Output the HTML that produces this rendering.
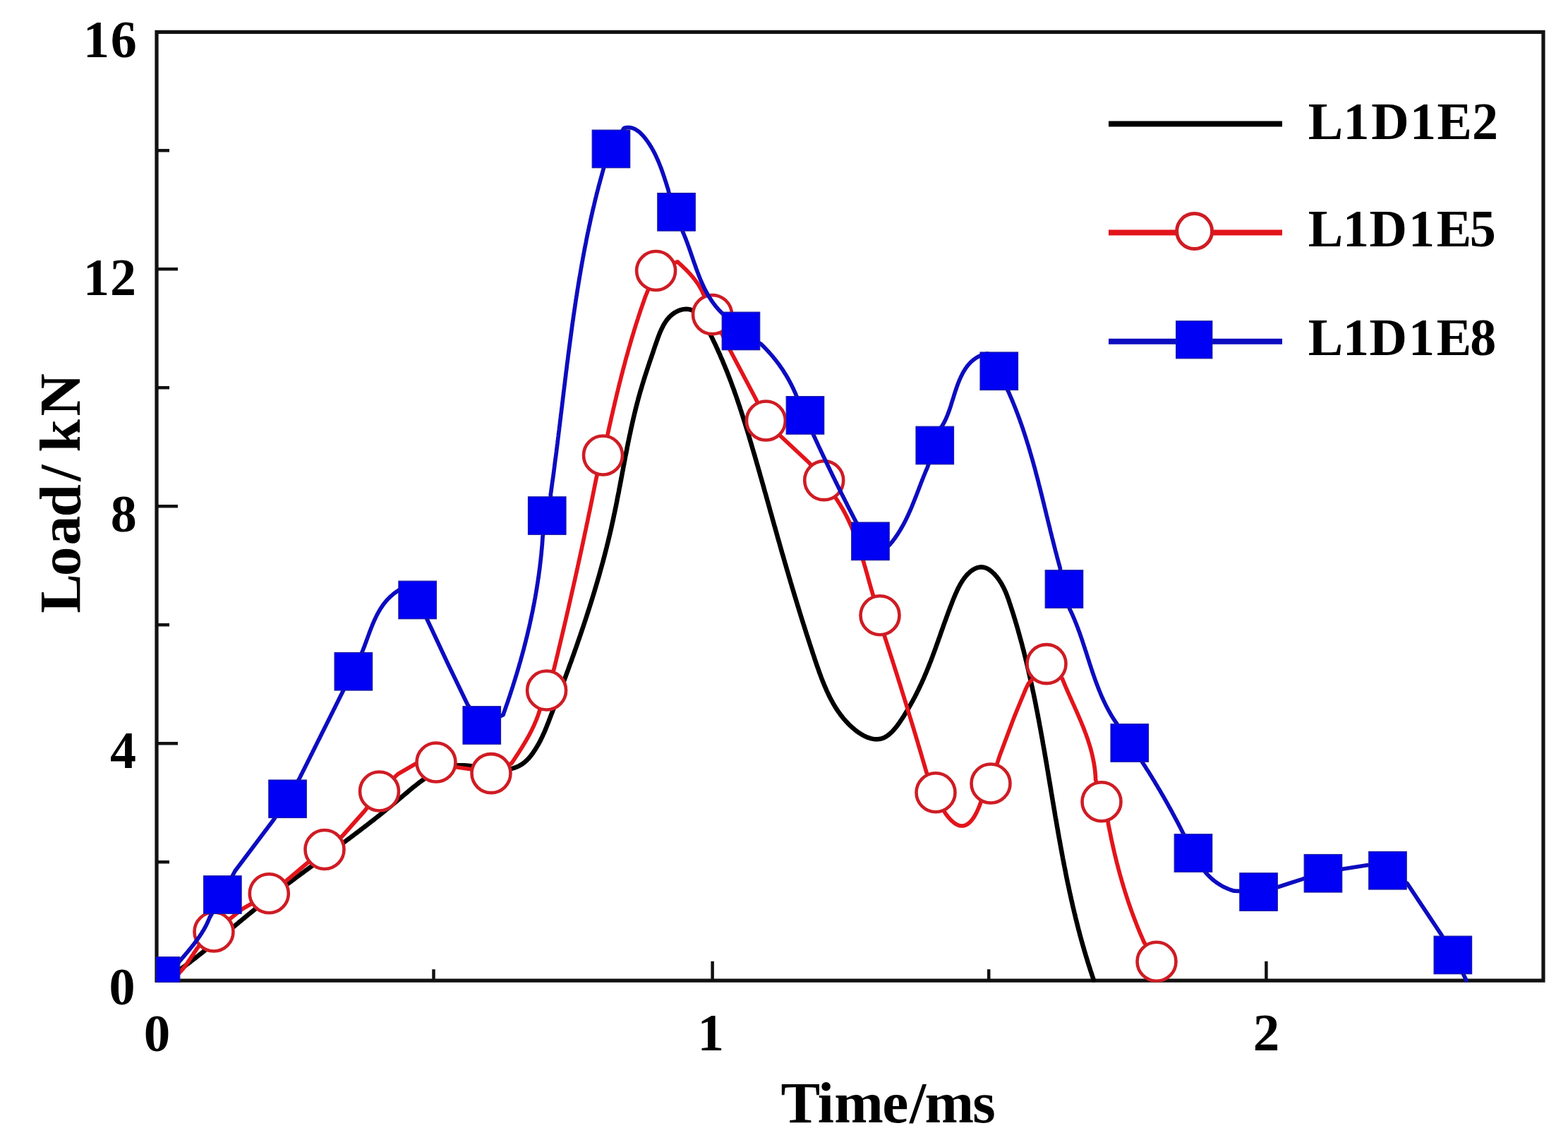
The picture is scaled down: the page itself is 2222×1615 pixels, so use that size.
<!DOCTYPE html>
<html><head><meta charset="utf-8"><title>Load vs Time</title>
<style>html,body{margin:0;padding:0;background:#fff;}body{width:2222px;height:1615px;overflow:hidden;}svg{display:block;}</style>
</head><body>
<svg width="2222" height="1615" viewBox="0 0 2222 1615">
<rect width="2222" height="1615" fill="#fff"/>
<g fill="none" stroke="#111" stroke-width="5.2" stroke-linecap="butt">
<path d="M222.0,45.3 H2187.0 V1389.2 H222.0 Z" stroke-linejoin="miter"/>
<path d="M222.0,381.2 H252.0" stroke-width="4.5"/>
<path d="M222.0,717.2 H252.0" stroke-width="4.5"/>
<path d="M222.0,1053.2 H252.0" stroke-width="4.5"/>
<path d="M222.0,213.2 H240.0" stroke-width="4.5"/>
<path d="M222.0,549.2 H240.0" stroke-width="4.5"/>
<path d="M222.0,885.2 H240.0" stroke-width="4.5"/>
<path d="M222.0,1221.2 H240.0" stroke-width="4.5"/>
<path d="M1009.6,1389.2 V1361.8" stroke-width="4.5"/>
<path d="M1794.4,1389.2 V1361.8" stroke-width="4.5"/>
<path d="M614.5,1389.2 V1373.2" stroke-width="4.5"/>
<path d="M1401.2,1389.2 V1373.2" stroke-width="4.5"/>
</g>
<defs><clipPath id="pc"><rect x="219" y="40" width="1972" height="1351.5"/></clipPath></defs>
<g clip-path="url(#pc)">
<g fill="none" stroke-linecap="round" stroke-linejoin="round">
<path d="M222.4,1395.3 L223.7,1394.5 L224.9,1393.7 L226.2,1392.9 L227.4,1392.2 L228.7,1391.4 L229.9,1390.6 L231.2,1389.8 L232.4,1389.0 L233.6,1388.2 L234.9,1387.4 L236.1,1386.6 L237.3,1385.7 L238.6,1384.9 L239.8,1384.1 L241.0,1383.3 L242.3,1382.4 L243.5,1381.6 L244.7,1380.8 L245.9,1379.9 L247.1,1379.1 L248.4,1378.2 L249.6,1377.4 L250.8,1376.5 L252.0,1375.7 L253.2,1374.8 L254.4,1373.9 L255.6,1373.0 L256.8,1372.2 L258.1,1371.3 L259.3,1370.4 L260.5,1369.5 L261.7,1368.6 L262.9,1367.8 L264.1,1366.9 L265.3,1366.0 L266.5,1365.1 L267.7,1364.2 L268.9,1363.3 L270.1,1362.4 L271.2,1361.4 L272.4,1360.5 L273.6,1359.6 L274.8,1358.7 L276.0,1357.8 L277.2,1356.9 L278.4,1355.9 L279.6,1355.0 L280.8,1354.1 L281.9,1353.1 L283.1,1352.2 L284.3,1351.3 L285.5,1350.3 L286.7,1349.4 L287.9,1348.5 L289.0,1347.5 L290.2,1346.6 L291.4,1345.6 L292.6,1344.7 L293.7,1343.7 L294.9,1342.8 L296.1,1341.8 L297.3,1340.9 L298.4,1339.9 L299.6,1339.0 L300.8,1338.0 L302.0,1337.1 L303.1,1336.1 L304.3,1335.1 L305.5,1334.2 L306.6,1333.2 L307.8,1332.3 L309.0,1331.3 L310.2,1330.3 L311.3,1329.4 L312.5,1328.4 L313.7,1327.4 L314.8,1326.5 L316.0,1325.5 L317.2,1324.5 L318.3,1323.6 L319.5,1322.6 L320.7,1321.6 L321.8,1320.7 L323.0,1319.7 L324.1,1318.7 L325.3,1317.7 L326.5,1316.8 L327.6,1315.8 L328.8,1314.8 L330.0,1313.9 L331.1,1312.9 L332.3,1311.9 L333.5,1311.0 L334.6,1310.0 L335.8,1309.0 L337.0,1308.1 L338.1,1307.1 L339.3,1306.1 L340.4,1305.2 L341.6,1304.2 L342.8,1303.2 L343.9,1302.3 L345.1,1301.3 L346.3,1300.4 L347.4,1299.4 L348.6,1298.4 L349.8,1297.5 L350.9,1296.5 L352.1,1295.6 L353.3,1294.6 L354.4,1293.7 L355.6,1292.7 L356.8,1291.8 L357.9,1290.8 L359.1,1289.9 L360.3,1288.9 L361.5,1288.0 L362.6,1287.0 L363.8,1286.1 L365.0,1285.2 L366.1,1284.2 L367.3,1283.3 L368.5,1282.4 L369.7,1281.4 L370.8,1280.5 L372.0,1279.6 L373.2,1278.7 L374.4,1277.7 L375.5,1276.8 L376.7,1275.9 L377.9,1275.0 L379.1,1274.1 L380.2,1273.1 L381.4,1272.2 L382.6,1271.3 L383.8,1270.4 L385.0,1269.5 L386.1,1268.6 L387.3,1267.7 L388.5,1266.8 L389.7,1265.8 L390.9,1264.9 L392.0,1264.0 L393.2,1263.1 L394.4,1262.2 L395.6,1261.3 L396.8,1260.4 L398.0,1259.5 L399.1,1258.6 L400.3,1257.7 L401.5,1256.8 L402.7,1255.9 L403.9,1255.1 L405.1,1254.2 L406.3,1253.3 L407.4,1252.4 L408.6,1251.5 L409.8,1250.6 L411.0,1249.7 L412.2,1248.8 L413.4,1247.9 L414.6,1247.0 L415.8,1246.2 L417.0,1245.3 L418.1,1244.4 L419.3,1243.5 L420.5,1242.6 L421.7,1241.7 L422.9,1240.9 L424.1,1240.0 L425.3,1239.1 L426.5,1238.2 L427.7,1237.3 L428.9,1236.5 L430.1,1235.6 L431.2,1234.7 L432.4,1233.8 L433.6,1232.9 L434.8,1232.1 L436.0,1231.2 L437.2,1230.3 L438.4,1229.4 L439.6,1228.5 L440.8,1227.7 L442.0,1226.8 L443.2,1225.9 L444.4,1225.0 L445.6,1224.2 L446.8,1223.3 L448.0,1222.4 L449.2,1221.5 L450.4,1220.7 L451.6,1219.8 L452.8,1218.9 L454.0,1218.0 L455.2,1217.1 L456.3,1216.3 L457.5,1215.4 L458.7,1214.5 L459.9,1213.6 L461.1,1212.8 L462.3,1211.9 L463.5,1211.0 L464.7,1210.1 L465.9,1209.2 L467.1,1208.4 L468.3,1207.5 L469.5,1206.6 L470.7,1205.7 L471.9,1204.8 L473.1,1203.9 L474.3,1203.1 L475.5,1202.2 L476.7,1201.3 L477.9,1200.4 L479.1,1199.5 L480.3,1198.6 L481.5,1197.7 L482.7,1196.9 L483.9,1196.0 L485.1,1195.1 L486.3,1194.2 L487.5,1193.3 L488.7,1192.4 L489.9,1191.5 L491.1,1190.6 L492.3,1189.7 L493.5,1188.8 L494.7,1187.9 L495.9,1187.0 L497.1,1186.1 L498.3,1185.2 L499.5,1184.3 L500.7,1183.4 L501.9,1182.5 L503.1,1181.6 L504.3,1180.7 L505.5,1179.8 L506.7,1178.9 L507.9,1178.0 L509.1,1177.1 L510.3,1176.2 L511.5,1175.2 L512.7,1174.3 L513.9,1173.4 L515.1,1172.5 L516.3,1171.6 L517.5,1170.7 L518.7,1169.7 L519.9,1168.8 L521.1,1167.9 L522.3,1167.0 L523.5,1166.0 L524.7,1165.1 L525.9,1164.2 L527.1,1163.2 L528.3,1162.3 L529.5,1161.4 L530.7,1160.4 L531.9,1159.5 L533.1,1158.5 L534.3,1157.6 L535.5,1156.7 L536.7,1155.7 L537.9,1154.8 L539.1,1153.8 L540.3,1152.9 L541.4,1151.9 L542.6,1150.9 L543.8,1150.0 L545.0,1149.0 L546.2,1148.1 L547.4,1147.1 L548.6,1146.1 L549.8,1145.1 L551.0,1144.2 L552.2,1143.2 L553.4,1142.2 L554.6,1141.2 L555.8,1140.3 L557.0,1139.3 L558.2,1138.3 L559.4,1137.3 L560.6,1136.3 L561.8,1135.3 L562.9,1134.3 L564.1,1133.3 L565.3,1132.3 L566.5,1131.3 L567.7,1130.3 L568.9,1129.3 L570.1,1128.3 L571.3,1127.3 L572.5,1126.3 L573.7,1125.3 L574.9,1124.3 L576.1,1123.3 L577.3,1122.3 L578.4,1121.3 L579.6,1120.3 L580.8,1119.3 L582.0,1118.3 L583.2,1117.3 L584.4,1116.3 L585.6,1115.3 L586.8,1114.3 L588.1,1113.4 L589.3,1112.4 L590.5,1111.5 L591.7,1110.5 L592.9,1109.6 L594.1,1108.6 L595.3,1107.7 L596.6,1106.8 L597.8,1105.9 L599.0,1105.0 L600.2,1104.2 L601.5,1103.3 L602.7,1102.4 L604.0,1101.6 L605.2,1100.8 L606.5,1100.0 L607.7,1099.2 L609.0,1098.4 L610.2,1097.6 L611.5,1096.9 L612.8,1096.1 L614.0,1095.4 L615.3,1094.7 L616.6,1094.0 L617.9,1093.3 L619.2,1092.7 L620.5,1092.1 L621.8,1091.5 L623.1,1090.9 L624.4,1090.3 L625.7,1089.8 L627.0,1089.2 L628.4,1088.7 L629.7,1088.3 L631.1,1087.8 L632.4,1087.4 L633.8,1087.0 L635.1,1086.6 L636.5,1086.3 L637.9,1085.9 L639.3,1085.6 L640.6,1085.3 L642.0,1085.1 L643.4,1084.9 L644.9,1084.7 L646.3,1084.5 L647.7,1084.4 L649.1,1084.3 L650.6,1084.2 L652.0,1084.2 L653.5,1084.2 L654.9,1084.2 L656.4,1084.2 L657.9,1084.3 L659.4,1084.4 L660.9,1084.5 L662.4,1084.6 L663.8,1084.8 L665.3,1085.0 L666.9,1085.1 L668.4,1085.3 L669.9,1085.5 L671.4,1085.8 L672.9,1086.0 L674.4,1086.2 L675.9,1086.5 L677.4,1086.7 L679.0,1087.0 L680.5,1087.3 L682.0,1087.5 L683.5,1087.8 L685.0,1088.0 L686.5,1088.3 L688.0,1088.5 L689.5,1088.8 L691.1,1089.0 L692.5,1089.2 L694.0,1089.4 L695.5,1089.6 L697.0,1089.8 L698.5,1090.0 L700.0,1090.1 L701.4,1090.3 L702.9,1090.4 L704.4,1090.5 L705.8,1090.5 L707.2,1090.6 L708.7,1090.6 L710.1,1090.6 L711.5,1090.6 L712.9,1090.5 L714.3,1090.5 L715.7,1090.4 L717.1,1090.2 L718.5,1090.1 L719.8,1089.9 L721.2,1089.7 L722.5,1089.4 L723.8,1089.2 L725.2,1088.9 L726.5,1088.5 L727.8,1088.1 L729.0,1087.7 L730.3,1087.3 L731.6,1086.8 L732.8,1086.3 L734.0,1085.7 L735.3,1085.1 L736.5,1084.5 L737.6,1083.8 L738.8,1083.1 L740.0,1082.4 L741.1,1081.6 L742.2,1080.7 L743.4,1079.9 L744.5,1078.9 L745.5,1078.0 L746.6,1076.9 L747.7,1075.9 L748.7,1074.8 L749.7,1073.7 L750.7,1072.5 L751.7,1071.3 L752.6,1070.1 L753.6,1068.9 L754.5,1067.6 L755.4,1066.3 L756.3,1065.0 L757.2,1063.7 L758.1,1062.4 L758.9,1061.1 L759.7,1059.8 L760.5,1058.5 L761.3,1057.1 L762.1,1055.8 L762.9,1054.5 L763.6,1053.1 L764.3,1051.8 L765.1,1050.4 L765.8,1049.1 L766.4,1047.7 L767.1,1046.3 L767.8,1045.0 L768.4,1043.6 L769.1,1042.2 L769.7,1040.8 L770.3,1039.4 L771.0,1038.1 L771.6,1036.7 L772.2,1035.3 L772.8,1033.9 L773.3,1032.5 L773.9,1031.1 L774.5,1029.7 L775.0,1028.3 L775.6,1026.9 L776.2,1025.5 L776.7,1024.1 L777.3,1022.7 L777.8,1021.3 L778.3,1019.9 L778.9,1018.5 L779.4,1017.0 L780.0,1015.6 L780.5,1014.2 L781.0,1012.8 L781.6,1011.4 L782.1,1010.0 L782.7,1008.6 L783.2,1007.2 L783.7,1005.8 L784.3,1004.4 L784.8,1003.0 L785.3,1001.6 L785.9,1000.1 L786.4,998.7 L786.9,997.3 L787.5,995.9 L788.0,994.5 L788.5,993.1 L789.1,991.7 L789.6,990.3 L790.1,988.9 L790.7,987.5 L791.2,986.1 L791.7,984.7 L792.2,983.3 L792.8,981.9 L793.3,980.4 L793.8,979.0 L794.4,977.6 L794.9,976.2 L795.4,974.8 L795.9,973.4 L796.5,972.0 L797.0,970.6 L797.5,969.2 L798.0,967.8 L798.6,966.4 L799.1,965.0 L799.6,963.5 L800.1,962.1 L800.6,960.7 L801.2,959.3 L801.7,957.9 L802.2,956.5 L802.7,955.1 L803.2,953.7 L803.7,952.3 L804.3,950.9 L804.8,949.5 L805.3,948.0 L805.8,946.6 L806.3,945.2 L806.8,943.8 L807.3,942.4 L807.8,941.0 L808.3,939.6 L808.9,938.2 L809.4,936.8 L809.9,935.4 L810.4,933.9 L810.9,932.5 L811.4,931.1 L811.9,929.7 L812.4,928.3 L812.9,926.9 L813.4,925.5 L813.9,924.1 L814.4,922.6 L814.9,921.2 L815.4,919.8 L815.9,918.4 L816.4,917.0 L816.9,915.6 L817.4,914.2 L817.9,912.7 L818.4,911.3 L818.8,909.9 L819.3,908.5 L819.8,907.1 L820.3,905.7 L820.8,904.3 L821.3,902.8 L821.8,901.4 L822.3,900.0 L822.7,898.6 L823.2,897.2 L823.7,895.8 L824.2,894.3 L824.7,892.9 L825.1,891.5 L825.6,890.1 L826.1,888.7 L826.6,887.3 L827.0,885.8 L827.5,884.4 L828.0,883.0 L828.5,881.6 L828.9,880.2 L829.4,878.7 L829.9,877.3 L830.3,875.9 L830.8,874.5 L831.3,873.0 L831.7,871.6 L832.2,870.2 L832.6,868.8 L833.1,867.4 L833.6,865.9 L834.0,864.5 L834.5,863.1 L834.9,861.7 L835.4,860.2 L835.8,858.8 L836.3,857.4 L836.7,855.9 L837.2,854.5 L837.6,853.1 L838.1,851.7 L838.5,850.2 L839.0,848.8 L839.4,847.4 L839.8,846.0 L840.3,844.5 L840.7,843.1 L841.2,841.7 L841.6,840.2 L842.0,838.8 L842.5,837.4 L842.9,835.9 L843.3,834.5 L843.7,833.1 L844.2,831.6 L844.6,830.2 L845.0,828.8 L845.4,827.3 L845.9,825.9 L846.3,824.5 L846.7,823.0 L847.1,821.6 L847.5,820.1 L848.0,818.7 L848.4,817.3 L848.8,815.8 L849.2,814.4 L849.6,813.0 L850.0,811.5 L850.4,810.1 L850.8,808.6 L851.2,807.2 L851.6,805.7 L852.0,804.3 L852.4,802.9 L852.8,801.4 L853.2,800.0 L853.6,798.5 L854.0,797.1 L854.4,795.6 L854.8,794.2 L855.2,792.7 L855.5,791.3 L855.9,789.8 L856.3,788.4 L856.7,786.9 L857.1,785.5 L857.4,784.0 L857.8,782.6 L858.2,781.1 L858.6,779.7 L858.9,778.2 L859.3,776.8 L859.7,775.3 L860.0,773.9 L860.4,772.4 L860.8,770.9 L861.1,769.5 L861.5,768.0 L861.8,766.6 L862.2,765.1 L862.5,763.7 L862.9,762.2 L863.2,760.7 L863.6,759.3 L863.9,757.8 L864.3,756.3 L864.6,754.9 L865.0,753.4 L865.3,752.0 L865.6,750.5 L866.0,749.0 L866.3,747.6 L866.6,746.1 L867.0,744.6 L867.3,743.1 L867.6,741.7 L867.9,740.2 L868.3,738.7 L868.6,737.3 L868.9,735.8 L869.2,734.3 L869.5,732.8 L869.8,731.4 L870.1,729.9 L870.5,728.4 L870.8,726.9 L871.1,725.5 L871.4,724.0 L871.7,722.5 L872.0,721.0 L872.3,719.5 L872.6,718.1 L872.9,716.6 L873.2,715.1 L873.5,713.6 L873.8,712.1 L874.1,710.7 L874.4,709.2 L874.6,707.7 L874.9,706.2 L875.2,704.7 L875.5,703.3 L875.8,701.8 L876.1,700.3 L876.4,698.8 L876.7,697.3 L877.0,695.8 L877.2,694.4 L877.5,692.9 L877.8,691.4 L878.1,689.9 L878.4,688.4 L878.7,686.9 L878.9,685.5 L879.2,684.0 L879.5,682.5 L879.8,681.0 L880.1,679.5 L880.3,678.0 L880.6,676.5 L880.9,675.1 L881.2,673.6 L881.5,672.1 L881.7,670.6 L882.0,669.1 L882.3,667.6 L882.6,666.2 L882.9,664.7 L883.1,663.2 L883.4,661.7 L883.7,660.2 L884.0,658.7 L884.3,657.3 L884.5,655.8 L884.8,654.3 L885.1,652.8 L885.4,651.3 L885.7,649.9 L886.0,648.4 L886.2,646.9 L886.5,645.4 L886.8,644.0 L887.1,642.5 L887.4,641.0 L887.7,639.5 L888.0,638.0 L888.3,636.6 L888.5,635.1 L888.8,633.6 L889.1,632.1 L889.4,630.7 L889.7,629.2 L890.0,627.7 L890.3,626.3 L890.6,624.8 L890.9,623.3 L891.2,621.9 L891.5,620.4 L891.8,618.9 L892.1,617.5 L892.4,616.0 L892.8,614.5 L893.1,613.1 L893.4,611.6 L893.7,610.1 L894.0,608.7 L894.3,607.2 L894.6,605.8 L895.0,604.3 L895.3,602.8 L895.6,601.4 L895.9,599.9 L896.3,598.5 L896.6,597.0 L896.9,595.6 L897.3,594.1 L897.6,592.7 L897.9,591.2 L898.3,589.8 L898.6,588.3 L899.0,586.9 L899.3,585.4 L899.7,584.0 L900.0,582.6 L900.4,581.1 L900.7,579.7 L901.1,578.2 L901.4,576.8 L901.8,575.4 L902.2,573.9 L902.6,572.5 L902.9,571.1 L903.3,569.6 L903.7,568.2 L904.1,566.8 L904.4,565.4 L904.8,563.9 L905.2,562.5 L905.6,561.1 L906.0,559.7 L906.4,558.3 L906.8,556.8 L907.2,555.4 L907.6,554.0 L908.0,552.6 L908.5,551.2 L908.9,549.8 L909.3,548.4 L909.7,547.0 L910.1,545.5 L910.6,544.1 L911.0,542.7 L911.4,541.3 L911.9,539.9 L912.3,538.5 L912.7,537.1 L913.2,535.7 L913.6,534.3 L914.1,532.8 L914.5,531.4 L915.0,530.0 L915.4,528.6 L915.9,527.2 L916.4,525.7 L916.8,524.3 L917.3,522.9 L917.8,521.5 L918.2,520.0 L918.7,518.6 L919.2,517.2 L919.7,515.7 L920.1,514.3 L920.6,512.9 L921.1,511.4 L921.6,510.0 L922.1,508.5 L922.6,507.1 L923.1,505.6 L923.6,504.1 L924.1,502.7 L924.6,501.2 L925.1,499.7 L925.6,498.3 L926.1,496.8 L926.6,495.3 L927.1,493.8 L927.6,492.3 L928.1,490.8 L928.6,489.3 L929.2,487.8 L929.7,486.3 L930.2,484.8 L930.7,483.3 L931.3,481.7 L931.8,480.2 L932.3,478.7 L932.9,477.2 L933.5,475.7 L934.0,474.2 L934.6,472.7 L935.2,471.2 L935.8,469.8 L936.5,468.3 L937.1,466.9 L937.8,465.5 L938.5,464.1 L939.2,462.7 L939.9,461.3 L940.6,460.0 L941.4,458.7 L942.2,457.4 L943.0,456.1 L943.9,454.9 L944.7,453.7 L945.6,452.5 L946.6,451.4 L947.5,450.3 L948.5,449.2 L949.6,448.2 L950.6,447.2 L951.7,446.2 L952.8,445.3 L954.0,444.5 L955.1,443.6 L956.3,442.9 L957.5,442.1 L958.8,441.5 L960.0,440.9 L961.3,440.3 L962.5,439.8 L963.8,439.3 L965.1,438.9 L966.4,438.6 L967.6,438.3 L968.9,438.1 L970.2,437.9 L971.5,437.9 L972.7,437.8 L974.0,437.9 L975.2,438.0 L976.4,438.2 L977.6,438.4 L978.8,438.8 L979.9,439.2 L981.1,439.7 L982.2,440.2 L983.3,440.8 L984.3,441.5 L985.4,442.3 L986.4,443.1 L987.4,443.9 L988.4,444.9 L989.4,445.8 L990.4,446.8 L991.3,447.9 L992.2,449.0 L993.1,450.2 L994.0,451.4 L994.9,452.6 L995.8,453.9 L996.6,455.2 L997.5,456.5 L998.3,457.8 L999.1,459.2 L999.9,460.6 L1000.7,462.0 L1001.5,463.5 L1002.3,464.9 L1003.1,466.4 L1003.8,467.9 L1004.6,469.3 L1005.3,470.8 L1006.0,472.3 L1006.8,473.8 L1007.5,475.3 L1008.2,476.7 L1008.9,478.2 L1009.6,479.7 L1010.3,481.1 L1011.0,482.6 L1011.7,484.1 L1012.4,485.5 L1013.1,487.0 L1013.8,488.4 L1014.5,489.9 L1015.1,491.3 L1015.8,492.8 L1016.4,494.2 L1017.1,495.7 L1017.7,497.1 L1018.4,498.5 L1019.0,500.0 L1019.7,501.4 L1020.3,502.8 L1020.9,504.3 L1021.5,505.7 L1022.1,507.1 L1022.7,508.5 L1023.4,509.9 L1024.0,511.4 L1024.6,512.8 L1025.1,514.2 L1025.7,515.6 L1026.3,517.0 L1026.9,518.4 L1027.5,519.8 L1028.0,521.2 L1028.6,522.6 L1029.2,524.0 L1029.7,525.4 L1030.3,526.8 L1030.9,528.2 L1031.4,529.6 L1031.9,531.0 L1032.5,532.4 L1033.0,533.8 L1033.6,535.2 L1034.1,536.6 L1034.6,538.0 L1035.2,539.4 L1035.7,540.7 L1036.2,542.1 L1036.7,543.5 L1037.2,544.9 L1037.7,546.3 L1038.2,547.7 L1038.8,549.1 L1039.3,550.4 L1039.8,551.8 L1040.3,553.2 L1040.7,554.6 L1041.2,556.0 L1041.7,557.3 L1042.2,558.7 L1042.7,560.1 L1043.2,561.5 L1043.7,562.9 L1044.1,564.3 L1044.6,565.6 L1045.1,567.0 L1045.5,568.4 L1046.0,569.8 L1046.5,571.2 L1046.9,572.5 L1047.4,573.9 L1047.9,575.3 L1048.3,576.7 L1048.8,578.1 L1049.2,579.5 L1049.7,580.9 L1050.1,582.2 L1050.6,583.6 L1051.0,585.0 L1051.5,586.4 L1051.9,587.8 L1052.4,589.2 L1052.8,590.6 L1053.3,592.0 L1053.7,593.4 L1054.1,594.8 L1054.6,596.2 L1055.0,597.6 L1055.5,599.0 L1055.9,600.4 L1056.3,601.8 L1056.8,603.2 L1057.2,604.6 L1057.6,606.0 L1058.1,607.4 L1058.5,608.8 L1058.9,610.2 L1059.4,611.6 L1059.8,613.0 L1060.2,614.5 L1060.7,615.9 L1061.1,617.3 L1061.5,618.7 L1061.9,620.2 L1062.4,621.6 L1062.8,623.0 L1063.2,624.4 L1063.6,625.9 L1064.1,627.3 L1064.5,628.7 L1064.9,630.2 L1065.3,631.6 L1065.8,633.0 L1066.2,634.5 L1066.6,635.9 L1067.0,637.4 L1067.5,638.8 L1067.9,640.3 L1068.3,641.7 L1068.7,643.1 L1069.2,644.6 L1069.6,646.0 L1070.0,647.5 L1070.4,648.9 L1070.8,650.4 L1071.3,651.9 L1071.7,653.3 L1072.1,654.8 L1072.5,656.2 L1072.9,657.7 L1073.4,659.1 L1073.8,660.6 L1074.2,662.1 L1074.6,663.5 L1075.0,665.0 L1075.4,666.4 L1075.9,667.9 L1076.3,669.4 L1076.7,670.8 L1077.1,672.3 L1077.5,673.8 L1077.9,675.2 L1078.4,676.7 L1078.8,678.1 L1079.2,679.6 L1079.6,681.1 L1080.0,682.5 L1080.4,684.0 L1080.8,685.5 L1081.3,687.0 L1081.7,688.4 L1082.1,689.9 L1082.5,691.4 L1082.9,692.8 L1083.3,694.3 L1083.7,695.8 L1084.1,697.2 L1084.6,698.7 L1085.0,700.2 L1085.4,701.6 L1085.8,703.1 L1086.2,704.6 L1086.6,706.0 L1087.0,707.5 L1087.4,709.0 L1087.8,710.4 L1088.3,711.9 L1088.7,713.4 L1089.1,714.8 L1089.5,716.3 L1089.9,717.8 L1090.3,719.2 L1090.7,720.7 L1091.1,722.2 L1091.5,723.6 L1091.9,725.1 L1092.3,726.5 L1092.8,728.0 L1093.2,729.5 L1093.6,730.9 L1094.0,732.4 L1094.4,733.8 L1094.8,735.3 L1095.2,736.8 L1095.6,738.2 L1096.0,739.7 L1096.4,741.1 L1096.8,742.6 L1097.2,744.0 L1097.6,745.5 L1098.1,746.9 L1098.5,748.4 L1098.9,749.8 L1099.3,751.3 L1099.7,752.7 L1100.1,754.1 L1100.5,755.6 L1100.9,757.0 L1101.3,758.5 L1101.7,759.9 L1102.1,761.4 L1102.5,762.8 L1102.9,764.2 L1103.3,765.7 L1103.8,767.1 L1104.2,768.5 L1104.6,770.0 L1105.0,771.4 L1105.4,772.8 L1105.8,774.3 L1106.2,775.7 L1106.6,777.1 L1107.0,778.6 L1107.4,780.0 L1107.8,781.4 L1108.2,782.8 L1108.6,784.3 L1109.1,785.7 L1109.5,787.1 L1109.9,788.6 L1110.3,790.0 L1110.7,791.4 L1111.1,792.8 L1111.5,794.2 L1111.9,795.7 L1112.3,797.1 L1112.7,798.5 L1113.2,799.9 L1113.6,801.4 L1114.0,802.8 L1114.4,804.2 L1114.8,805.6 L1115.2,807.0 L1115.6,808.5 L1116.1,809.9 L1116.5,811.3 L1116.9,812.7 L1117.3,814.1 L1117.7,815.5 L1118.1,817.0 L1118.5,818.4 L1119.0,819.8 L1119.4,821.2 L1119.8,822.6 L1120.2,824.1 L1120.6,825.5 L1121.1,826.9 L1121.5,828.3 L1121.9,829.7 L1122.3,831.1 L1122.7,832.6 L1123.2,834.0 L1123.6,835.4 L1124.0,836.8 L1124.4,838.2 L1124.9,839.6 L1125.3,841.1 L1125.7,842.5 L1126.1,843.9 L1126.6,845.3 L1127.0,846.7 L1127.4,848.1 L1127.9,849.6 L1128.3,851.0 L1128.7,852.4 L1129.2,853.8 L1129.6,855.2 L1130.0,856.7 L1130.5,858.1 L1130.9,859.5 L1131.3,860.9 L1131.8,862.3 L1132.2,863.8 L1132.6,865.2 L1133.1,866.6 L1133.5,868.0 L1134.0,869.5 L1134.4,870.9 L1134.8,872.3 L1135.3,873.7 L1135.7,875.2 L1136.2,876.6 L1136.6,878.0 L1137.1,879.4 L1137.5,880.9 L1138.0,882.3 L1138.4,883.7 L1138.9,885.2 L1139.3,886.6 L1139.8,888.0 L1140.2,889.4 L1140.7,890.9 L1141.1,892.3 L1141.6,893.7 L1142.0,895.2 L1142.5,896.6 L1143.0,898.1 L1143.4,899.5 L1143.9,900.9 L1144.4,902.4 L1144.8,903.8 L1145.3,905.3 L1145.7,906.7 L1146.2,908.1 L1146.7,909.6 L1147.2,911.0 L1147.6,912.5 L1148.1,913.9 L1148.6,915.4 L1149.0,916.8 L1149.5,918.3 L1150.0,919.7 L1150.5,921.2 L1151.0,922.6 L1151.4,924.1 L1151.9,925.6 L1152.4,927.0 L1152.9,928.5 L1153.4,929.9 L1153.9,931.4 L1154.3,932.9 L1154.8,934.3 L1155.3,935.8 L1155.8,937.2 L1156.3,938.7 L1156.8,940.2 L1157.3,941.6 L1157.8,943.1 L1158.3,944.6 L1158.8,946.0 L1159.4,947.5 L1159.9,949.0 L1160.4,950.4 L1160.9,951.9 L1161.4,953.4 L1162.0,954.8 L1162.5,956.3 L1163.1,957.7 L1163.6,959.2 L1164.1,960.6 L1164.7,962.1 L1165.3,963.5 L1165.8,965.0 L1166.4,966.4 L1167.0,967.8 L1167.6,969.3 L1168.2,970.7 L1168.8,972.1 L1169.4,973.5 L1170.0,974.9 L1170.6,976.3 L1171.2,977.7 L1171.8,979.1 L1172.5,980.5 L1173.1,981.9 L1173.8,983.3 L1174.5,984.7 L1175.1,986.1 L1175.8,987.4 L1176.5,988.8 L1177.2,990.1 L1177.9,991.5 L1178.6,992.8 L1179.4,994.1 L1180.1,995.5 L1180.8,996.8 L1181.6,998.1 L1182.4,999.4 L1183.1,1000.7 L1183.9,1001.9 L1184.7,1003.2 L1185.5,1004.5 L1186.4,1005.7 L1187.2,1007.0 L1188.0,1008.2 L1188.9,1009.4 L1189.8,1010.6 L1190.7,1011.9 L1191.5,1013.1 L1192.5,1014.2 L1193.4,1015.4 L1194.3,1016.6 L1195.2,1017.7 L1196.2,1018.9 L1197.2,1020.0 L1198.2,1021.1 L1199.2,1022.2 L1200.2,1023.3 L1201.2,1024.4 L1202.3,1025.5 L1203.3,1026.5 L1204.4,1027.6 L1205.5,1028.6 L1206.6,1029.6 L1207.7,1030.6 L1208.8,1031.6 L1210.0,1032.6 L1211.1,1033.5 L1212.3,1034.5 L1213.5,1035.4 L1214.7,1036.3 L1215.9,1037.2 L1217.1,1038.0 L1218.4,1038.8 L1219.6,1039.6 L1220.8,1040.4 L1222.1,1041.1 L1223.3,1041.8 L1224.6,1042.5 L1225.9,1043.1 L1227.2,1043.7 L1228.4,1044.2 L1229.7,1044.8 L1231.0,1045.2 L1232.3,1045.6 L1233.6,1046.0 L1234.8,1046.4 L1236.1,1046.6 L1237.4,1046.9 L1238.7,1047.1 L1239.9,1047.2 L1241.2,1047.3 L1242.5,1047.3 L1243.7,1047.2 L1245.0,1047.1 L1246.2,1047.0 L1247.4,1046.8 L1248.7,1046.5 L1249.9,1046.1 L1251.1,1045.7 L1252.3,1045.2 L1253.5,1044.7 L1254.6,1044.0 L1255.8,1043.4 L1256.9,1042.6 L1258.1,1041.8 L1259.2,1041.0 L1260.3,1040.1 L1261.4,1039.1 L1262.5,1038.1 L1263.6,1037.1 L1264.7,1036.0 L1265.7,1034.9 L1266.8,1033.7 L1267.8,1032.5 L1268.8,1031.3 L1269.9,1030.0 L1270.9,1028.8 L1271.9,1027.4 L1272.9,1026.1 L1273.8,1024.8 L1274.8,1023.4 L1275.7,1022.0 L1276.7,1020.6 L1277.6,1019.2 L1278.5,1017.8 L1279.5,1016.4 L1280.4,1015.0 L1281.3,1013.6 L1282.1,1012.1 L1283.0,1010.7 L1283.9,1009.3 L1284.7,1007.9 L1285.6,1006.5 L1286.4,1005.1 L1287.2,1003.7 L1288.0,1002.3 L1288.8,1000.9 L1289.6,999.5 L1290.4,998.2 L1291.2,996.8 L1291.9,995.4 L1292.7,994.0 L1293.5,992.6 L1294.2,991.3 L1294.9,989.9 L1295.7,988.5 L1296.4,987.2 L1297.1,985.8 L1297.8,984.4 L1298.5,983.1 L1299.2,981.7 L1299.8,980.4 L1300.5,979.0 L1301.2,977.7 L1301.8,976.3 L1302.5,975.0 L1303.1,973.6 L1303.8,972.3 L1304.4,970.9 L1305.0,969.6 L1305.7,968.2 L1306.3,966.9 L1306.9,965.5 L1307.5,964.2 L1308.1,962.9 L1308.7,961.5 L1309.3,960.2 L1309.8,958.8 L1310.4,957.5 L1311.0,956.2 L1311.6,954.8 L1312.1,953.5 L1312.7,952.2 L1313.2,950.8 L1313.8,949.5 L1314.3,948.1 L1314.9,946.8 L1315.4,945.5 L1315.9,944.1 L1316.5,942.8 L1317.0,941.5 L1317.5,940.1 L1318.0,938.8 L1318.6,937.5 L1319.1,936.1 L1319.6,934.8 L1320.1,933.4 L1320.6,932.1 L1321.1,930.8 L1321.6,929.4 L1322.1,928.1 L1322.6,926.7 L1323.1,925.4 L1323.6,924.0 L1324.1,922.7 L1324.6,921.3 L1325.1,920.0 L1325.6,918.6 L1326.1,917.3 L1326.5,915.9 L1327.0,914.6 L1327.5,913.2 L1328.0,911.8 L1328.5,910.5 L1329.0,909.1 L1329.5,907.8 L1329.9,906.4 L1330.4,905.0 L1330.9,903.6 L1331.4,902.3 L1331.9,900.9 L1332.4,899.5 L1332.9,898.1 L1333.3,896.7 L1333.8,895.3 L1334.3,894.0 L1334.8,892.6 L1335.3,891.2 L1335.8,889.8 L1336.3,888.4 L1336.8,887.0 L1337.3,885.5 L1337.8,884.1 L1338.3,882.7 L1338.8,881.3 L1339.3,879.9 L1339.9,878.5 L1340.4,877.0 L1340.9,875.6 L1341.4,874.2 L1341.9,872.7 L1342.5,871.3 L1343.0,869.8 L1343.5,868.4 L1344.1,866.9 L1344.6,865.4 L1345.2,864.0 L1345.7,862.5 L1346.3,861.0 L1346.8,859.6 L1347.4,858.1 L1348.0,856.6 L1348.6,855.1 L1349.1,853.6 L1349.7,852.1 L1350.3,850.6 L1350.9,849.1 L1351.5,847.6 L1352.1,846.1 L1352.8,844.6 L1353.4,843.1 L1354.0,841.6 L1354.7,840.1 L1355.4,838.6 L1356.0,837.2 L1356.7,835.7 L1357.4,834.3 L1358.1,832.8 L1358.8,831.4 L1359.6,830.0 L1360.3,828.6 L1361.1,827.3 L1361.9,825.9 L1362.7,824.6 L1363.5,823.3 L1364.4,822.0 L1365.2,820.8 L1366.1,819.5 L1367.0,818.3 L1367.9,817.2 L1368.9,816.0 L1369.8,814.9 L1370.8,813.9 L1371.8,812.8 L1372.9,811.8 L1373.9,810.9 L1375.0,809.9 L1376.1,809.1 L1377.2,808.2 L1378.4,807.5 L1379.5,806.7 L1380.7,806.1 L1381.8,805.5 L1383.0,805.0 L1384.2,804.5 L1385.4,804.1 L1386.6,803.8 L1387.8,803.6 L1389.0,803.4 L1390.2,803.3 L1391.4,803.4 L1392.6,803.5 L1393.8,803.7 L1395.0,804.0 L1396.2,804.3 L1397.4,804.8 L1398.6,805.3 L1399.8,805.9 L1400.9,806.5 L1402.1,807.3 L1403.2,808.1 L1404.3,808.9 L1405.4,809.8 L1406.5,810.8 L1407.6,811.8 L1408.7,812.8 L1409.7,813.9 L1410.7,815.1 L1411.7,816.2 L1412.7,817.4 L1413.7,818.7 L1414.6,819.9 L1415.5,821.2 L1416.4,822.5 L1417.3,823.8 L1418.1,825.2 L1419.0,826.5 L1419.7,827.9 L1420.5,829.3 L1421.2,830.6 L1422.0,832.0 L1422.6,833.4 L1423.3,834.8 L1423.9,836.2 L1424.6,837.6 L1425.2,839.0 L1425.8,840.4 L1426.3,841.8 L1426.9,843.2 L1427.4,844.6 L1427.9,846.1 L1428.5,847.5 L1429.0,848.9 L1429.5,850.4 L1430.0,851.8 L1430.4,853.2 L1430.9,854.7 L1431.4,856.1 L1431.9,857.5 L1432.3,859.0 L1432.8,860.4 L1433.3,861.8 L1433.7,863.3 L1434.2,864.7 L1434.7,866.2 L1435.1,867.6 L1435.6,869.0 L1436.0,870.5 L1436.5,871.9 L1436.9,873.4 L1437.3,874.8 L1437.8,876.3 L1438.2,877.7 L1438.7,879.1 L1439.1,880.6 L1439.5,882.0 L1440.0,883.5 L1440.4,884.9 L1440.8,886.4 L1441.2,887.8 L1441.7,889.3 L1442.1,890.7 L1442.5,892.2 L1442.9,893.6 L1443.3,895.1 L1443.7,896.5 L1444.1,898.0 L1444.5,899.4 L1444.9,900.9 L1445.3,902.3 L1445.7,903.8 L1446.1,905.2 L1446.5,906.7 L1446.9,908.1 L1447.3,909.6 L1447.7,911.0 L1448.1,912.5 L1448.5,913.9 L1448.8,915.4 L1449.2,916.8 L1449.6,918.3 L1450.0,919.8 L1450.4,921.2 L1450.7,922.7 L1451.1,924.1 L1451.5,925.6 L1451.8,927.0 L1452.2,928.5 L1452.6,930.0 L1452.9,931.4 L1453.3,932.9 L1453.6,934.3 L1454.0,935.8 L1454.4,937.2 L1454.7,938.7 L1455.1,940.2 L1455.4,941.6 L1455.8,943.1 L1456.1,944.5 L1456.4,946.0 L1456.8,947.5 L1457.1,948.9 L1457.5,950.4 L1457.8,951.9 L1458.1,953.3 L1458.5,954.8 L1458.8,956.2 L1459.1,957.7 L1459.5,959.2 L1459.8,960.6 L1460.1,962.1 L1460.5,963.6 L1460.8,965.0 L1461.1,966.5 L1461.4,968.0 L1461.7,969.4 L1462.1,970.9 L1462.4,972.4 L1462.7,973.8 L1463.0,975.3 L1463.3,976.8 L1463.6,978.2 L1463.9,979.7 L1464.3,981.2 L1464.6,982.6 L1464.9,984.1 L1465.2,985.6 L1465.5,987.0 L1465.8,988.5 L1466.1,990.0 L1466.4,991.4 L1466.7,992.9 L1467.0,994.4 L1467.3,995.9 L1467.6,997.3 L1467.9,998.8 L1468.1,1000.3 L1468.4,1001.7 L1468.7,1003.2 L1469.0,1004.7 L1469.3,1006.2 L1469.6,1007.6 L1469.9,1009.1 L1470.2,1010.6 L1470.5,1012.0 L1470.7,1013.5 L1471.0,1015.0 L1471.3,1016.5 L1471.6,1017.9 L1471.9,1019.4 L1472.1,1020.9 L1472.4,1022.4 L1472.7,1023.8 L1473.0,1025.3 L1473.2,1026.8 L1473.5,1028.3 L1473.8,1029.7 L1474.1,1031.2 L1474.3,1032.7 L1474.6,1034.2 L1474.9,1035.6 L1475.1,1037.1 L1475.4,1038.6 L1475.7,1040.1 L1475.9,1041.5 L1476.2,1043.0 L1476.5,1044.5 L1476.7,1046.0 L1477.0,1047.4 L1477.3,1048.9 L1477.5,1050.4 L1477.8,1051.9 L1478.0,1053.3 L1478.3,1054.8 L1478.6,1056.3 L1478.8,1057.8 L1479.1,1059.2 L1479.3,1060.7 L1479.6,1062.2 L1479.9,1063.7 L1480.1,1065.2 L1480.4,1066.6 L1480.6,1068.1 L1480.9,1069.6 L1481.1,1071.1 L1481.4,1072.5 L1481.6,1074.0 L1481.9,1075.5 L1482.1,1077.0 L1482.4,1078.5 L1482.6,1079.9 L1482.9,1081.4 L1483.2,1082.9 L1483.4,1084.4 L1483.7,1085.8 L1483.9,1087.3 L1484.2,1088.8 L1484.4,1090.3 L1484.7,1091.8 L1484.9,1093.2 L1485.2,1094.7 L1485.4,1096.2 L1485.6,1097.7 L1485.9,1099.2 L1486.1,1100.6 L1486.4,1102.1 L1486.6,1103.6 L1486.9,1105.1 L1487.1,1106.5 L1487.4,1108.0 L1487.6,1109.5 L1487.9,1111.0 L1488.1,1112.5 L1488.4,1113.9 L1488.6,1115.4 L1488.9,1116.9 L1489.1,1118.4 L1489.4,1119.9 L1489.6,1121.3 L1489.9,1122.8 L1490.1,1124.3 L1490.4,1125.8 L1490.6,1127.2 L1490.8,1128.7 L1491.1,1130.2 L1491.3,1131.7 L1491.6,1133.2 L1491.8,1134.6 L1492.1,1136.1 L1492.3,1137.6 L1492.6,1139.1 L1492.8,1140.6 L1493.1,1142.0 L1493.3,1143.5 L1493.6,1145.0 L1493.8,1146.5 L1494.1,1147.9 L1494.3,1149.4 L1494.6,1150.9 L1494.8,1152.4 L1495.1,1153.9 L1495.3,1155.3 L1495.6,1156.8 L1495.8,1158.3 L1496.1,1159.8 L1496.3,1161.2 L1496.6,1162.7 L1496.9,1164.2 L1497.1,1165.7 L1497.4,1167.2 L1497.6,1168.6 L1497.9,1170.1 L1498.1,1171.6 L1498.4,1173.1 L1498.7,1174.5 L1498.9,1176.0 L1499.2,1177.5 L1499.4,1179.0 L1499.7,1180.4 L1499.9,1181.9 L1500.2,1183.4 L1500.5,1184.9 L1500.7,1186.3 L1501.0,1187.8 L1501.3,1189.3 L1501.5,1190.8 L1501.8,1192.2 L1502.1,1193.7 L1502.3,1195.2 L1502.6,1196.7 L1502.9,1198.1 L1503.1,1199.6 L1503.4,1201.1 L1503.7,1202.6 L1503.9,1204.0 L1504.2,1205.5 L1504.5,1207.0 L1504.8,1208.5 L1505.0,1209.9 L1505.3,1211.4 L1505.6,1212.9 L1505.9,1214.3 L1506.1,1215.8 L1506.4,1217.3 L1506.7,1218.8 L1507.0,1220.2 L1507.3,1221.7 L1507.5,1223.2 L1507.8,1224.6 L1508.1,1226.1 L1508.4,1227.6 L1508.7,1229.1 L1509.0,1230.5 L1509.3,1232.0 L1509.6,1233.5 L1509.9,1234.9 L1510.1,1236.4 L1510.4,1237.9 L1510.7,1239.3 L1511.0,1240.8 L1511.3,1242.3 L1511.6,1243.8 L1511.9,1245.2 L1512.2,1246.7 L1512.5,1248.2 L1512.8,1249.6 L1513.1,1251.1 L1513.4,1252.6 L1513.8,1254.0 L1514.1,1255.5 L1514.4,1257.0 L1514.7,1258.4 L1515.0,1259.9 L1515.3,1261.4 L1515.6,1262.8 L1515.9,1264.3 L1516.3,1265.7 L1516.6,1267.2 L1516.9,1268.7 L1517.2,1270.1 L1517.6,1271.6 L1517.9,1273.1 L1518.2,1274.5 L1518.5,1276.0 L1518.9,1277.4 L1519.2,1278.9 L1519.5,1280.4 L1519.9,1281.8 L1520.2,1283.3 L1520.5,1284.8 L1520.9,1286.2 L1521.2,1287.7 L1521.6,1289.1 L1521.9,1290.6 L1522.3,1292.1 L1522.6,1293.5 L1523.0,1295.0 L1523.3,1296.4 L1523.7,1297.9 L1524.0,1299.3 L1524.4,1300.8 L1524.7,1302.3 L1525.1,1303.7 L1525.5,1305.2 L1525.8,1306.6 L1526.2,1308.1 L1526.6,1309.5 L1526.9,1311.0 L1527.3,1312.4 L1527.7,1313.9 L1528.0,1315.3 L1528.4,1316.8 L1528.8,1318.3 L1529.2,1319.7 L1529.6,1321.2 L1529.9,1322.6 L1530.3,1324.1 L1530.7,1325.5 L1531.1,1327.0 L1531.5,1328.4 L1531.9,1329.9 L1532.3,1331.3 L1532.7,1332.8 L1533.1,1334.2 L1533.5,1335.7 L1533.9,1337.1 L1534.3,1338.5 L1534.7,1340.0 L1535.1,1341.4 L1535.6,1342.9 L1536.0,1344.3 L1536.4,1345.8 L1536.8,1347.2 L1537.2,1348.7 L1537.7,1350.1 L1538.1,1351.5 L1538.5,1353.0 L1538.9,1354.4 L1539.4,1355.9 L1539.8,1357.3 L1540.3,1358.8 L1540.7,1360.2 L1541.1,1361.6 L1541.6,1363.1 L1542.0,1364.5 L1542.5,1366.0 L1542.9,1367.4 L1543.4,1368.8 L1543.9,1370.3 L1544.3,1371.7 L1544.8,1373.1 L1545.2,1374.6 L1545.7,1376.0 L1546.2,1377.4 L1546.7,1378.9 L1547.1,1380.3 L1547.6,1381.7 L1548.1,1383.2 L1548.6,1384.6 L1549.1,1386.0 L1549.5,1387.5 L1550.0,1388.9" stroke="#000" stroke-width="6.5"/>
</g>
<g fill="none" stroke-linecap="round" stroke-linejoin="round">
<path d="M222.0,1395.0 L245.0,1386.0 L246.3,1385.1 L247.6,1384.1 L248.8,1383.1 L250.0,1382.1 L251.2,1381.0 L252.3,1380.0 L253.4,1378.9 L254.5,1377.8 L255.6,1376.6 L256.7,1375.5 L257.7,1374.3 L258.7,1373.2 L259.7,1372.0 L260.7,1370.7 L261.6,1369.5 L262.5,1368.3 L263.5,1367.0 L264.4,1365.8 L265.3,1364.5 L266.2,1363.2 L267.1,1361.9 L267.9,1360.6 L268.8,1359.3 L269.7,1358.0 L270.5,1356.7 L271.4,1355.4 L272.3,1354.1 L273.1,1352.8 L274.0,1351.5 L274.8,1350.2 L275.7,1348.9 L276.6,1347.6 L277.5,1346.3 L278.3,1345.0 L279.2,1343.8 L280.1,1342.5 L281.1,1341.2 L282.0,1340.0 L303.0,1320.0 L343.0,1288.0 L381.3,1265.7 L406.0,1247.5 L435.0,1223.0 L460.0,1203.5 L485.0,1184.5 L517.0,1148.5 L537.5,1121.0 L564.0,1096.5 L589.0,1082.0 L618.0,1080.0 L648.0,1087.0 L669.0,1090.0 L696.0,1095.6 L724.9,1081.4 L725.8,1080.1 L726.6,1078.9 L727.5,1077.6 L728.3,1076.3 L729.2,1075.0 L730.0,1073.7 L730.8,1072.5 L731.7,1071.2 L732.5,1069.9 L733.4,1068.6 L734.2,1067.3 L735.1,1066.0 L735.9,1064.7 L736.7,1063.4 L737.5,1062.1 L738.4,1060.8 L739.2,1059.5 L740.0,1058.2 L740.8,1056.9 L741.6,1055.6 L742.4,1054.3 L743.2,1053.0 L744.0,1051.6 L744.8,1050.3 L745.6,1049.0 L746.3,1047.6 L747.1,1046.3 L747.8,1045.0 L748.6,1043.6 L749.3,1042.3 L750.1,1040.9 L750.8,1039.6 L751.5,1038.2 L752.2,1036.8 L752.9,1035.5 L753.6,1034.1 L754.3,1032.7 L754.9,1031.3 L755.6,1029.9 L756.3,1028.5 L756.9,1027.1 L757.5,1025.7 L758.1,1024.3 L758.7,1022.9 L759.3,1021.5 L759.9,1020.1 L760.5,1018.6 L761.0,1017.2 L761.6,1015.8 L762.1,1014.3 L762.6,1012.9 L763.1,1011.4 L763.6,1009.9 L764.0,1008.5 L764.5,1007.0 L774.6,978.0 L785.0,948.0 L785.4,946.5 L785.7,945.1 L786.1,943.6 L786.4,942.1 L786.8,940.7 L787.1,939.2 L787.5,937.7 L787.9,936.2 L788.2,934.8 L788.6,933.3 L788.9,931.8 L789.3,930.4 L789.6,928.9 L790.0,927.4 L790.3,926.0 L790.7,924.5 L791.0,923.0 L791.4,921.5 L791.7,920.1 L792.1,918.6 L792.4,917.1 L792.8,915.7 L793.1,914.2 L793.5,912.7 L793.8,911.3 L794.2,909.8 L794.5,908.3 L794.9,906.8 L795.2,905.4 L795.6,903.9 L795.9,902.4 L796.3,901.0 L796.6,899.5 L797.0,898.0 L797.3,896.5 L797.7,895.1 L798.0,893.6 L798.4,892.1 L798.7,890.7 L799.1,889.2 L799.4,887.7 L799.7,886.2 L800.1,884.8 L800.4,883.3 L800.8,881.8 L801.1,880.4 L801.5,878.9 L801.8,877.4 L802.1,875.9 L802.5,874.5 L802.8,873.0 L803.2,871.5 L803.5,870.0 L803.8,868.6 L804.2,867.1 L804.5,865.6 L804.9,864.2 L805.2,862.7 L805.5,861.2 L805.9,859.7 L806.2,858.3 L806.6,856.8 L806.9,855.3 L807.2,853.8 L807.6,852.4 L807.9,850.9 L808.2,849.4 L808.6,848.0 L808.9,846.5 L809.2,845.0 L809.6,843.5 L809.9,842.1 L810.2,840.6 L810.6,839.1 L810.9,837.6 L811.2,836.2 L811.6,834.7 L811.9,833.2 L812.2,831.7 L812.6,830.3 L812.9,828.8 L813.2,827.3 L813.6,825.8 L813.9,824.4 L814.2,822.9 L814.6,821.4 L814.9,819.9 L815.2,818.5 L815.5,817.0 L815.9,815.5 L816.2,814.0 L816.5,812.6 L816.9,811.1 L817.2,809.6 L817.5,808.1 L817.8,806.7 L818.2,805.2 L818.5,803.7 L818.8,802.2 L819.1,800.7 L819.5,799.3 L819.8,797.8 L820.1,796.3 L820.4,794.8 L820.8,793.4 L821.1,791.9 L821.4,790.4 L821.7,788.9 L822.0,787.5 L822.4,786.0 L822.7,784.5 L823.0,783.0 L823.3,781.6 L823.6,780.1 L824.0,778.6 L824.3,777.1 L824.6,775.6 L824.9,774.2 L825.2,772.7 L825.6,771.2 L825.9,769.7 L826.2,768.3 L826.5,766.8 L826.8,765.3 L827.1,763.8 L827.5,762.3 L827.8,760.9 L828.1,759.4 L828.4,757.9 L828.7,756.4 L829.0,754.9 L829.3,753.5 L829.7,752.0 L830.0,750.5 L830.3,749.0 L830.6,747.6 L830.9,746.1 L831.2,744.6 L831.5,743.1 L831.8,741.6 L832.2,740.2 L832.5,738.7 L832.8,737.2 L833.1,735.7 L833.4,734.2 L833.7,732.8 L834.0,731.3 L834.3,729.8 L834.6,728.3 L834.9,726.8 L835.2,725.4 L835.6,723.9 L835.9,722.4 L836.2,720.9 L836.5,719.4 L836.8,718.0 L837.1,716.5 L837.4,715.0 L837.7,713.5 L838.0,712.0 L838.3,710.6 L838.6,709.1 L838.9,707.6 L839.2,706.1 L839.5,704.6 L839.8,703.2 L840.1,701.7 L840.4,700.2 L840.7,698.7 L841.0,697.2 L841.3,695.7 L841.6,694.3 L841.9,692.8 L842.2,691.3 L842.5,689.8 L842.8,688.3 L843.1,686.9 L843.4,685.4 L843.7,683.9 L844.0,682.4 L844.3,680.9 L844.6,679.4 L844.9,678.0 L845.2,676.5 L845.5,675.0 L854.5,645.0 L861.0,616.0 L861.3,614.5 L861.6,613.0 L862.0,611.6 L862.3,610.1 L862.6,608.6 L862.9,607.1 L863.3,605.6 L863.6,604.1 L863.9,602.7 L864.3,601.2 L864.6,599.7 L864.9,598.2 L865.3,596.7 L865.6,595.3 L865.9,593.8 L866.3,592.3 L866.6,590.8 L866.9,589.3 L867.3,587.9 L867.6,586.4 L868.0,584.9 L868.3,583.4 L868.6,582.0 L869.0,580.5 L869.3,579.0 L869.7,577.5 L870.0,576.0 L870.4,574.6 L870.7,573.1 L871.1,571.6 L871.4,570.1 L871.7,568.7 L872.1,567.2 L872.5,565.7 L872.8,564.2 L873.2,562.7 L873.5,561.3 L873.9,559.8 L874.2,558.3 L874.6,556.8 L874.9,555.4 L875.3,553.9 L875.7,552.4 L876.0,550.9 L876.4,549.5 L876.7,548.0 L877.1,546.5 L877.5,545.1 L877.8,543.6 L878.2,542.1 L878.6,540.6 L879.0,539.2 L879.3,537.7 L879.7,536.2 L880.1,534.8 L880.4,533.3 L880.8,531.8 L881.2,530.3 L881.6,528.9 L882.0,527.4 L882.3,525.9 L882.7,524.5 L883.1,523.0 L883.5,521.5 L883.9,520.1 L884.3,518.6 L884.7,517.1 L885.1,515.7 L885.5,514.2 L885.8,512.7 L886.2,511.3 L886.6,509.8 L887.0,508.3 L887.4,506.9 L887.8,505.4 L888.2,503.9 L888.7,502.5 L889.1,501.0 L889.5,499.6 L889.9,498.1 L890.3,496.6 L890.7,495.2 L891.1,493.7 L891.5,492.3 L891.9,490.8 L892.4,489.3 L892.8,487.9 L893.2,486.4 L893.6,485.0 L894.1,483.5 L894.5,482.1 L894.9,480.6 L895.3,479.2 L895.8,477.7 L896.2,476.2 L896.6,474.8 L897.1,473.3 L897.5,471.9 L898.0,470.4 L898.4,469.0 L898.8,467.5 L899.3,466.1 L899.7,464.6 L900.2,463.2 L900.6,461.7 L901.1,460.3 L901.5,458.8 L902.0,457.4 L902.5,455.9 L902.9,454.5 L903.4,453.1 L903.9,451.6 L904.3,450.2 L904.8,448.7 L905.3,447.3 L905.7,445.8 L906.2,444.4 L906.7,443.0 L907.2,441.5 L907.6,440.1 L908.1,438.6 L908.6,437.2 L909.1,435.8 L909.6,434.3 L910.1,432.9 L910.6,431.5 L911.1,430.0 L911.6,428.6 L912.1,427.2 L912.6,425.7 L913.1,424.3 L913.6,422.9 L914.1,421.4 L914.6,420.0 L929.6,383.5 L960.0,370.8 L961.2,371.8 L962.3,372.9 L963.5,373.9 L964.6,375.0 L965.8,376.0 L966.9,377.1 L968.1,378.2 L969.2,379.3 L970.3,380.3 L971.5,381.4 L972.6,382.5 L973.7,383.7 L974.8,384.8 L975.8,385.9 L976.9,387.1 L978.0,388.2 L979.0,389.4 L980.0,390.6 L981.0,391.7 L982.0,392.9 L983.0,394.2 L984.0,395.4 L984.9,396.6 L985.9,397.9 L986.8,399.1 L987.7,400.4 L988.6,401.7 L989.5,403.0 L990.3,404.3 L991.1,405.7 L991.9,407.0 L992.7,408.4 L993.5,409.8 L994.2,411.2 L994.9,412.6 L995.6,414.0 L1009.5,445.6 L1034.0,495.0 L1071.0,565.0 L1085.4,596.0 L1106.4,618.0 L1146.0,655.0 L1167.7,680.6 L1184.2,705.3 L1185.0,706.6 L1185.9,707.8 L1186.7,709.1 L1187.6,710.4 L1188.4,711.7 L1189.2,713.0 L1190.1,714.3 L1190.9,715.6 L1191.6,716.9 L1192.4,718.2 L1193.2,719.5 L1193.9,720.8 L1194.7,722.1 L1195.4,723.5 L1196.2,724.8 L1196.9,726.1 L1197.6,727.5 L1198.3,728.8 L1199.0,730.2 L1199.7,731.5 L1200.3,732.9 L1201.0,734.2 L1201.7,735.6 L1202.3,737.0 L1203.0,738.3 L1203.6,739.7 L1204.2,741.1 L1204.8,742.5 L1205.5,743.9 L1206.1,745.2 L1206.7,746.6 L1207.2,748.0 L1207.8,749.4 L1208.4,750.8 L1209.0,752.2 L1209.5,753.6 L1210.1,755.0 L1210.6,756.4 L1211.2,757.9 L1211.7,759.3 L1212.2,760.7 L1212.8,762.1 L1213.3,763.5 L1213.8,765.0 L1214.3,766.4 L1214.8,767.8 L1215.3,769.2 L1215.8,770.7 L1216.3,772.1 L1216.8,773.6 L1217.2,775.0 L1217.7,776.4 L1218.2,777.9 L1218.6,779.3 L1219.1,780.8 L1219.6,782.2 L1220.0,783.7 L1220.5,785.1 L1220.9,786.6 L1221.4,788.0 L1221.8,789.5 L1222.2,790.9 L1222.7,792.4 L1223.1,793.8 L1223.5,795.3 L1224.0,796.7 L1224.4,798.2 L1224.8,799.7 L1225.2,801.1 L1225.7,802.6 L1226.1,804.0 L1226.5,805.5 L1226.9,807.0 L1227.3,808.4 L1227.7,809.9 L1228.2,811.4 L1228.6,812.8 L1229.0,814.3 L1229.4,815.7 L1229.8,817.2 L1230.2,818.7 L1230.6,820.1 L1231.0,821.6 L1231.4,823.1 L1231.8,824.5 L1232.2,826.0 L1232.7,827.4 L1233.1,828.9 L1233.5,830.4 L1233.9,831.8 L1234.3,833.3 L1234.7,834.7 L1235.1,836.2 L1235.6,837.6 L1236.0,839.1 L1236.4,840.5 L1236.8,842.0 L1247.0,871.7 L1253.5,901.3 L1254.0,902.7 L1254.4,904.2 L1254.9,905.6 L1255.4,907.1 L1255.9,908.5 L1256.3,910.0 L1256.8,911.4 L1257.3,912.9 L1257.7,914.3 L1258.2,915.8 L1258.7,917.2 L1259.1,918.7 L1259.6,920.1 L1260.1,921.5 L1260.5,923.0 L1261.0,924.4 L1261.5,925.9 L1261.9,927.3 L1262.4,928.8 L1262.9,930.2 L1263.3,931.7 L1263.8,933.1 L1264.3,934.6 L1264.7,936.0 L1265.2,937.5 L1265.6,938.9 L1266.1,940.4 L1266.6,941.8 L1267.0,943.3 L1267.5,944.7 L1267.9,946.2 L1268.4,947.6 L1268.9,949.1 L1269.3,950.5 L1269.8,951.9 L1270.2,953.4 L1270.7,954.8 L1271.2,956.3 L1271.6,957.7 L1272.1,959.2 L1272.5,960.6 L1273.0,962.1 L1273.4,963.5 L1273.9,965.0 L1274.4,966.4 L1274.8,967.9 L1275.3,969.3 L1275.7,970.8 L1276.2,972.2 L1276.6,973.7 L1277.1,975.1 L1277.5,976.6 L1278.0,978.1 L1278.4,979.5 L1278.9,981.0 L1279.3,982.4 L1279.8,983.9 L1280.2,985.3 L1280.7,986.8 L1281.1,988.2 L1281.6,989.7 L1282.0,991.1 L1282.5,992.6 L1282.9,994.0 L1283.4,995.5 L1283.8,996.9 L1284.3,998.4 L1284.7,999.8 L1285.2,1001.3 L1285.6,1002.7 L1286.1,1004.2 L1286.5,1005.6 L1287.0,1007.1 L1287.4,1008.6 L1287.8,1010.0 L1288.3,1011.5 L1288.7,1012.9 L1289.2,1014.4 L1289.6,1015.8 L1290.1,1017.3 L1290.5,1018.7 L1290.9,1020.2 L1291.4,1021.6 L1291.8,1023.1 L1292.3,1024.5 L1292.7,1026.0 L1293.2,1027.5 L1293.6,1028.9 L1294.0,1030.4 L1294.5,1031.8 L1294.9,1033.3 L1295.3,1034.7 L1295.8,1036.2 L1296.2,1037.6 L1296.7,1039.1 L1297.1,1040.6 L1297.5,1042.0 L1298.0,1043.5 L1298.4,1044.9 L1298.8,1046.4 L1299.3,1047.8 L1299.7,1049.3 L1300.1,1050.7 L1300.6,1052.2 L1301.0,1053.7 L1301.4,1055.1 L1301.9,1056.6 L1302.3,1058.0 L1302.7,1059.5 L1303.2,1060.9 L1303.6,1062.4 L1304.0,1063.9 L1304.5,1065.3 L1304.9,1066.8 L1305.3,1068.2 L1305.8,1069.7 L1306.2,1071.2 L1306.6,1072.6 L1307.0,1074.1 L1307.5,1075.5 L1307.9,1077.0 L1308.3,1078.4 L1308.8,1079.9 L1309.2,1081.4 L1309.6,1082.8 L1310.0,1084.3 L1310.5,1085.7 L1310.9,1087.2 L1311.3,1088.7 L1311.7,1090.1 L1312.2,1091.6 L1312.6,1093.0 L1313.0,1094.5 L1326.0,1122.8 L1337.6,1149.0 L1338.9,1150.9 L1340.1,1152.7 L1341.4,1154.4 L1342.6,1156.0 L1343.8,1157.6 L1345.1,1159.0 L1346.3,1160.4 L1347.5,1161.7 L1348.7,1162.8 L1349.9,1163.9 L1351.1,1164.9 L1352.2,1165.8 L1353.4,1166.7 L1354.5,1167.4 L1355.7,1168.0 L1356.8,1168.6 L1358.0,1169.0 L1359.1,1169.4 L1360.2,1169.7 L1361.3,1169.9 L1362.4,1170.0 L1363.5,1170.0 L1364.6,1169.9 L1365.7,1169.8 L1366.7,1169.5 L1367.8,1169.2 L1368.8,1168.7 L1369.9,1168.2 L1370.9,1167.6 L1371.9,1166.9 L1372.9,1166.1 L1373.9,1165.2 L1374.9,1164.3 L1375.9,1163.2 L1376.9,1162.1 L1377.9,1160.8 L1378.9,1159.5 L1379.8,1158.1 L1380.8,1156.6 L1381.7,1155.0 L1382.6,1153.3 L1383.6,1151.5 L1384.5,1149.7 L1385.4,1147.7 L1386.3,1145.7 L1387.2,1143.5 L1388.1,1141.3 L1388.9,1139.0 L1389.8,1136.6 L1404.0,1110.0 L1416.8,1070.2 L1427.0,1043.0 L1437.2,1015.8 L1445.3,996.0 L1453.5,976.3 L1457.6,968.1 L1483.0,940.6 L1505.3,961.3 L1505.9,962.7 L1506.4,964.1 L1507.0,965.5 L1507.6,966.9 L1508.2,968.3 L1508.7,969.7 L1509.3,971.1 L1509.9,972.5 L1510.5,973.9 L1511.1,975.3 L1511.7,976.6 L1512.3,978.0 L1512.9,979.4 L1513.5,980.8 L1514.1,982.2 L1514.7,983.6 L1515.4,985.0 L1516.0,986.4 L1516.6,987.7 L1517.2,989.1 L1517.8,990.5 L1518.5,991.9 L1519.1,993.3 L1519.7,994.7 L1520.3,996.1 L1520.9,997.5 L1521.6,998.8 L1522.2,1000.2 L1522.8,1001.6 L1523.4,1003.0 L1524.0,1004.4 L1524.7,1005.8 L1525.3,1007.2 L1525.9,1008.6 L1526.5,1010.0 L1527.1,1011.3 L1527.7,1012.7 L1528.3,1014.1 L1528.9,1015.5 L1529.5,1016.9 L1530.1,1018.3 L1530.7,1019.7 L1531.3,1021.1 L1531.9,1022.5 L1532.5,1023.9 L1533.0,1025.3 L1533.6,1026.7 L1534.2,1028.1 L1534.8,1029.5 L1535.3,1030.9 L1535.9,1032.3 L1536.4,1033.8 L1537.0,1035.2 L1537.5,1036.6 L1538.0,1038.0 L1538.6,1039.4 L1539.1,1040.8 L1539.6,1042.3 L1540.1,1043.7 L1540.6,1045.1 L1541.1,1046.5 L1541.6,1048.0 L1542.1,1049.4 L1542.5,1050.8 L1543.0,1052.3 L1543.4,1053.7 L1543.9,1055.1 L1544.3,1056.6 L1544.8,1058.0 L1545.2,1059.5 L1545.6,1060.9 L1546.0,1062.4 L1546.4,1063.9 L1546.8,1065.3 L1547.1,1066.8 L1547.5,1068.2 L1547.8,1069.7 L1548.2,1071.2 L1548.5,1072.7 L1548.8,1074.1 L1549.1,1075.6 L1549.4,1077.1 L1549.7,1078.6 L1550.0,1080.1 L1550.3,1081.6 L1550.5,1083.1 L1550.7,1084.6 L1551.0,1086.1 L1551.2,1087.6 L1551.4,1089.1 L1551.6,1090.6 L1551.7,1092.2 L1551.9,1093.7 L1552.0,1095.2 L1552.2,1096.8 L1552.3,1098.3 L1552.4,1099.8 L1552.5,1101.4 L1552.5,1102.9 L1552.6,1104.5 L1561.0,1135.7 L1570.4,1164.9 L1570.4,1166.5 L1570.7,1167.9 L1571.0,1169.4 L1571.3,1170.9 L1571.6,1172.4 L1571.9,1173.9 L1572.2,1175.4 L1572.5,1176.8 L1572.8,1178.3 L1573.1,1179.8 L1573.4,1181.3 L1573.7,1182.8 L1574.0,1184.3 L1574.3,1185.7 L1574.6,1187.2 L1574.9,1188.7 L1575.2,1190.2 L1575.5,1191.7 L1575.9,1193.2 L1576.2,1194.6 L1576.5,1196.1 L1576.8,1197.6 L1577.2,1199.1 L1577.5,1200.6 L1577.8,1202.0 L1578.2,1203.5 L1578.5,1205.0 L1578.9,1206.5 L1579.2,1207.9 L1579.6,1209.4 L1579.9,1210.9 L1580.3,1212.4 L1580.6,1213.9 L1581.0,1215.3 L1581.3,1216.8 L1581.7,1218.3 L1582.1,1219.8 L1582.4,1221.2 L1582.8,1222.7 L1583.2,1224.2 L1583.6,1225.6 L1584.0,1227.1 L1584.3,1228.6 L1584.7,1230.1 L1585.1,1231.5 L1585.5,1233.0 L1585.9,1234.5 L1586.3,1235.9 L1586.7,1237.4 L1587.1,1238.9 L1587.5,1240.3 L1587.9,1241.8 L1588.3,1243.2 L1588.8,1244.7 L1589.2,1246.2 L1589.6,1247.6 L1590.0,1249.1 L1590.4,1250.5 L1590.9,1252.0 L1591.3,1253.5 L1591.7,1254.9 L1592.2,1256.4 L1592.6,1257.8 L1593.1,1259.3 L1593.5,1260.7 L1594.0,1262.2 L1594.4,1263.6 L1594.9,1265.1 L1595.3,1266.5 L1595.8,1268.0 L1596.3,1269.4 L1596.7,1270.9 L1597.2,1272.3 L1597.7,1273.8 L1598.2,1275.2 L1598.6,1276.6 L1599.1,1278.1 L1599.6,1279.5 L1600.1,1281.0 L1600.6,1282.4 L1601.1,1283.8 L1601.6,1285.3 L1602.1,1286.7 L1602.6,1288.1 L1603.1,1289.6 L1603.6,1291.0 L1604.1,1292.4 L1604.6,1293.8 L1605.2,1295.3 L1605.7,1296.7 L1606.2,1298.1 L1606.8,1299.5 L1607.3,1301.0 L1607.8,1302.4 L1608.4,1303.8 L1608.9,1305.2 L1609.5,1306.6 L1610.0,1308.0 L1610.6,1309.4 L1611.1,1310.8 L1611.7,1312.3 L1612.2,1313.7 L1612.8,1315.1 L1613.4,1316.5 L1614.0,1317.9 L1614.5,1319.3 L1615.1,1320.7 L1615.7,1322.1 L1616.3,1323.5 L1616.9,1324.9 L1617.5,1326.3 L1618.1,1327.6 L1618.7,1329.0 L1619.3,1330.4 L1619.9,1331.8 L1620.5,1333.2 L1621.1,1334.6 L1621.9,1335.9 L1639.0,1362.2" stroke="#e3141b" stroke-width="5.7"/>
</g>
<g fill="#fff" stroke="#cf1c24" stroke-width="4.6">
<circle cx="303.0" cy="1320.0" r="27.5"/>
<circle cx="381.3" cy="1265.7" r="27.5"/>
<circle cx="460.0" cy="1203.5" r="27.5"/>
<circle cx="537.5" cy="1121.0" r="27.5"/>
<circle cx="618.0" cy="1080.0" r="27.5"/>
<circle cx="696.0" cy="1095.6" r="27.5"/>
<circle cx="774.6" cy="978.0" r="27.5"/>
<circle cx="854.5" cy="645.0" r="27.5"/>
<circle cx="929.6" cy="383.5" r="27.5"/>
<circle cx="1009.5" cy="445.6" r="27.5"/>
<circle cx="1085.4" cy="596.0" r="27.5"/>
<circle cx="1167.7" cy="680.6" r="27.5"/>
<circle cx="1247.0" cy="871.7" r="27.5"/>
<circle cx="1326.0" cy="1122.8" r="27.5"/>
<circle cx="1404.0" cy="1110.0" r="27.5"/>
<circle cx="1483.0" cy="940.6" r="27.5"/>
<circle cx="1561.0" cy="1135.7" r="27.5"/>
<circle cx="1639.0" cy="1362.2" r="27.5"/>
</g>
<g fill="none" stroke-linecap="round" stroke-linejoin="round">
<path d="M222.0,1395.0 L240.0,1380.0 L240.9,1378.8 L241.8,1377.5 L242.8,1376.3 L243.7,1375.1 L244.6,1373.9 L245.6,1372.7 L246.5,1371.5 L247.5,1370.3 L248.5,1369.1 L249.4,1367.9 L250.4,1366.7 L251.4,1365.5 L252.4,1364.3 L253.4,1363.1 L254.4,1362.0 L255.4,1360.8 L256.4,1359.6 L257.4,1358.4 L258.4,1357.2 L259.4,1356.1 L260.4,1354.9 L261.4,1353.7 L262.4,1352.5 L263.4,1351.3 L264.4,1350.2 L265.4,1349.0 L266.4,1347.8 L267.4,1346.6 L268.3,1345.4 L269.3,1344.2 L270.3,1343.0 L271.3,1341.8 L272.2,1340.6 L273.2,1339.4 L274.2,1338.2 L275.1,1337.0 L276.1,1335.7 L277.0,1334.5 L277.9,1333.3 L278.8,1332.1 L279.7,1330.8 L280.6,1329.6 L281.5,1328.3 L282.4,1327.0 L283.3,1325.8 L284.1,1324.5 L285.0,1323.2 L285.8,1321.9 L286.6,1320.6 L287.4,1319.3 L288.2,1318.0 L289.0,1316.7 L289.7,1315.4 L290.5,1314.0 L291.2,1312.7 L291.9,1311.3 L292.6,1309.9 L293.3,1308.5 L294.0,1307.1 L294.6,1305.7 L295.2,1304.3 L295.8,1302.9 L296.4,1301.5 L297.0,1300.0 L315.3,1267.6 L333.0,1234.0 L388.0,1161.0 L407.5,1131.8 L424.8,1101.8 L425.5,1100.4 L426.2,1099.1 L426.8,1097.7 L427.5,1096.4 L428.2,1095.0 L428.9,1093.6 L429.6,1092.3 L430.2,1090.9 L430.9,1089.6 L431.6,1088.2 L432.3,1086.8 L433.0,1085.5 L433.6,1084.1 L434.3,1082.8 L435.0,1081.4 L435.7,1080.0 L436.4,1078.7 L437.0,1077.3 L437.7,1076.0 L438.4,1074.6 L439.1,1073.2 L439.7,1071.9 L440.4,1070.5 L441.1,1069.2 L441.8,1067.8 L442.5,1066.4 L443.1,1065.1 L443.8,1063.7 L444.5,1062.4 L445.2,1061.0 L445.9,1059.6 L446.5,1058.3 L447.2,1056.9 L447.9,1055.5 L448.6,1054.2 L449.3,1052.8 L449.9,1051.5 L450.6,1050.1 L451.3,1048.7 L452.0,1047.4 L452.7,1046.0 L453.3,1044.7 L454.0,1043.3 L454.7,1041.9 L455.4,1040.6 L456.0,1039.2 L456.7,1037.9 L457.4,1036.5 L458.1,1035.1 L458.8,1033.8 L459.4,1032.4 L460.1,1031.1 L460.8,1029.7 L461.5,1028.3 L462.2,1027.0 L462.8,1025.6 L463.5,1024.3 L464.2,1022.9 L464.9,1021.5 L465.6,1020.2 L466.2,1018.8 L466.9,1017.5 L467.6,1016.1 L468.3,1014.7 L468.9,1013.4 L469.6,1012.0 L470.3,1010.7 L471.0,1009.3 L471.7,1007.9 L472.3,1006.6 L473.0,1005.2 L473.7,1003.9 L474.4,1002.5 L475.1,1001.1 L475.7,999.8 L476.4,998.4 L477.1,997.0 L477.8,995.7 L478.5,994.3 L479.1,993.0 L479.8,991.6 L480.5,990.2 L481.2,988.9 L481.8,987.5 L482.5,986.2 L483.2,984.8 L483.9,983.4 L484.6,982.1 L485.2,980.7 L485.9,979.4 L486.6,978.0 L500.9,951.2 L513.1,923.8 L513.7,922.4 L514.3,921.0 L514.8,919.6 L515.4,918.2 L515.9,916.8 L516.5,915.4 L517.0,913.9 L517.5,912.5 L518.1,911.1 L518.6,909.6 L519.1,908.2 L519.6,906.8 L520.2,905.3 L520.7,903.9 L521.2,902.4 L521.7,901.0 L522.3,899.5 L522.8,898.1 L523.3,896.6 L523.9,895.2 L524.4,893.7 L525.0,892.3 L525.5,890.8 L526.1,889.4 L526.7,888.0 L527.2,886.6 L527.8,885.1 L528.4,883.7 L529.0,882.3 L529.6,880.9 L530.2,879.5 L530.9,878.1 L531.5,876.7 L532.2,875.3 L532.8,874.0 L533.5,872.6 L534.2,871.2 L534.9,869.9 L535.6,868.6 L536.3,867.2 L537.1,865.9 L537.9,864.6 L538.6,863.3 L539.4,862.0 L540.3,860.8 L541.1,859.5 L542.0,858.3 L542.8,857.0 L543.7,855.8 L544.6,854.6 L545.6,853.5 L546.5,852.3 L547.5,851.1 L548.5,850.0 L549.5,848.9 L550.6,847.8 L551.7,846.7 L552.8,845.6 L553.9,844.6 L555.1,843.6 L556.2,842.6 L557.4,841.6 L558.7,840.6 L559.9,839.7 L561.2,838.7 L562.6,837.8 L563.9,837.0 L565.0,836.0 L591.6,850.0 L605.4,877.8 L635.0,941.0 L662.4,997.8 L682.8,1027.4 L713.0,1012.7 L713.5,1011.3 L714.0,1009.9 L714.5,1008.4 L715.0,1007.0 L715.5,1005.6 L716.0,1004.2 L716.5,1002.7 L717.0,1001.3 L717.5,999.9 L718.0,998.4 L718.5,997.0 L719.0,995.6 L719.5,994.2 L720.0,992.7 L720.4,991.3 L720.9,989.9 L721.4,988.4 L721.9,987.0 L722.4,985.6 L722.8,984.1 L723.3,982.7 L723.8,981.3 L724.2,979.8 L724.7,978.4 L725.2,976.9 L725.6,975.5 L726.1,974.1 L726.6,972.6 L727.0,971.2 L727.5,969.7 L727.9,968.3 L728.4,966.9 L728.8,965.4 L729.3,964.0 L729.7,962.5 L730.2,961.1 L730.6,959.6 L731.1,958.2 L731.5,956.8 L732.0,955.3 L732.4,953.9 L732.8,952.4 L733.3,951.0 L733.7,949.5 L734.1,948.1 L734.5,946.6 L735.0,945.2 L735.4,943.7 L735.8,942.3 L736.2,940.8 L736.6,939.4 L737.1,937.9 L737.5,936.5 L737.9,935.0 L738.3,933.5 L738.7,932.1 L739.1,930.6 L739.5,929.2 L739.9,927.7 L740.3,926.3 L740.7,924.8 L741.1,923.3 L741.5,921.9 L741.9,920.4 L742.3,919.0 L742.6,917.5 L743.0,916.0 L743.4,914.6 L743.8,913.1 L744.2,911.6 L744.5,910.2 L744.9,908.7 L745.3,907.3 L745.6,905.8 L746.0,904.3 L746.4,902.9 L746.7,901.4 L747.1,899.9 L747.4,898.4 L747.8,897.0 L748.1,895.5 L748.5,894.0 L748.8,892.6 L749.2,891.1 L749.5,889.6 L749.9,888.2 L750.2,886.7 L750.5,885.2 L750.9,883.7 L751.2,882.3 L751.5,880.8 L751.8,879.3 L752.2,877.8 L752.5,876.4 L752.8,874.9 L753.1,873.4 L753.4,871.9 L753.7,870.5 L754.0,869.0 L754.4,867.5 L754.7,866.0 L755.0,864.5 L755.3,863.1 L755.5,861.6 L755.8,860.1 L756.1,858.6 L756.4,857.1 L756.7,855.6 L757.0,854.2 L757.3,852.7 L757.5,851.2 L757.8,849.7 L758.1,848.2 L758.4,846.7 L758.6,845.2 L758.9,843.8 L759.1,842.3 L759.4,840.8 L759.7,839.3 L759.9,837.8 L760.2,836.3 L760.4,834.8 L760.7,833.3 L760.9,831.8 L761.1,830.4 L761.4,828.9 L761.6,827.4 L761.8,825.9 L762.1,824.4 L762.3,822.9 L762.5,821.4 L762.7,819.9 L763.0,818.4 L763.2,816.9 L763.4,815.4 L763.6,813.9 L763.8,812.4 L764.0,810.9 L764.2,809.4 L764.4,807.9 L764.6,806.4 L764.8,804.9 L765.0,803.4 L765.2,801.9 L765.3,800.4 L765.5,798.9 L765.7,797.4 L765.9,795.9 L766.0,794.4 L766.2,792.9 L766.4,791.4 L766.5,789.9 L766.7,788.4 L766.9,786.9 L767.0,785.4 L767.2,783.9 L767.3,782.4 L767.4,780.9 L767.6,779.4 L767.7,777.9 L767.9,776.4 L768.0,774.9 L768.1,773.4 L768.3,771.9 L768.4,770.4 L768.5,768.8 L768.6,767.3 L768.7,765.8 L768.8,764.3 L768.9,762.8 L769.0,761.3 L769.1,759.8 L769.4,758.3 L775.3,730.5 L780.5,702.6 L780.2,701.0 L780.4,699.5 L780.7,698.0 L780.9,696.5 L781.1,695.0 L781.3,693.5 L781.5,692.0 L781.7,690.6 L781.9,689.1 L782.1,687.6 L782.3,686.1 L782.5,684.6 L782.7,683.1 L782.9,681.6 L783.2,680.1 L783.4,678.6 L783.6,677.1 L783.8,675.6 L784.0,674.1 L784.2,672.7 L784.4,671.2 L784.6,669.7 L784.8,668.2 L785.0,666.7 L785.2,665.2 L785.4,663.7 L785.6,662.2 L785.8,660.7 L785.9,659.2 L786.1,657.7 L786.3,656.2 L786.5,654.7 L786.7,653.2 L786.9,651.7 L787.1,650.2 L787.3,648.7 L787.5,647.3 L787.7,645.8 L787.9,644.3 L788.1,642.8 L788.3,641.3 L788.5,639.8 L788.6,638.3 L788.8,636.8 L789.0,635.3 L789.2,633.8 L789.4,632.3 L789.6,630.8 L789.8,629.3 L790.0,627.8 L790.1,626.3 L790.3,624.8 L790.5,623.3 L790.7,621.8 L790.9,620.3 L791.1,618.8 L791.3,617.3 L791.4,615.8 L791.6,614.3 L791.8,612.8 L792.0,611.3 L792.2,609.8 L792.4,608.3 L792.5,606.8 L792.7,605.3 L792.9,603.9 L793.1,602.4 L793.3,600.9 L793.5,599.4 L793.6,597.9 L793.8,596.4 L794.0,594.9 L794.2,593.4 L794.4,591.9 L794.6,590.4 L794.7,588.9 L794.9,587.4 L795.1,585.9 L795.3,584.4 L795.5,582.9 L795.6,581.4 L795.8,579.9 L796.0,578.4 L796.2,576.9 L796.4,575.4 L796.6,573.9 L796.7,572.4 L796.9,570.9 L797.1,569.4 L797.3,567.9 L797.5,566.4 L797.6,564.9 L797.8,563.4 L798.0,561.9 L798.2,560.4 L798.4,558.9 L798.5,557.4 L798.7,555.9 L798.9,554.4 L799.1,552.9 L799.3,551.4 L799.5,549.9 L799.6,548.4 L799.8,546.9 L800.0,545.4 L800.2,543.9 L800.4,542.4 L800.6,540.9 L800.7,539.4 L800.9,537.9 L801.1,536.4 L801.3,534.9 L801.5,533.4 L801.7,531.9 L801.8,530.4 L802.0,528.9 L802.2,527.4 L802.4,525.9 L802.6,524.4 L802.8,522.9 L803.0,521.4 L803.2,519.9 L803.3,518.4 L803.5,516.9 L803.7,515.4 L803.9,513.9 L804.1,512.4 L804.3,510.9 L804.5,509.4 L804.7,507.9 L804.9,506.4 L805.0,504.9 L805.2,503.4 L805.4,502.0 L805.6,500.5 L805.8,499.0 L806.0,497.5 L806.2,496.0 L806.4,494.5 L806.6,493.0 L806.8,491.5 L807.0,490.0 L807.2,488.5 L807.4,487.0 L807.6,485.5 L807.8,484.0 L808.0,482.5 L808.2,481.0 L808.4,479.5 L808.6,478.0 L808.8,476.5 L809.0,475.0 L809.2,473.5 L809.4,472.0 L809.6,470.5 L809.8,469.0 L810.0,467.5 L810.2,466.0 L810.4,464.5 L810.6,463.0 L810.8,461.5 L811.0,460.1 L811.2,458.6 L811.4,457.1 L811.6,455.6 L811.9,454.1 L812.1,452.6 L812.3,451.1 L812.5,449.6 L812.7,448.1 L812.9,446.6 L813.1,445.1 L813.4,443.6 L813.6,442.1 L813.8,440.6 L814.0,439.1 L814.2,437.6 L814.5,436.2 L814.7,434.7 L814.9,433.2 L815.1,431.7 L815.3,430.2 L815.6,428.7 L815.8,427.2 L816.0,425.7 L816.2,424.2 L816.5,422.7 L816.7,421.2 L816.9,419.7 L817.2,418.2 L817.4,416.8 L817.6,415.3 L817.9,413.8 L818.1,412.3 L818.3,410.8 L818.6,409.3 L818.8,407.8 L819.1,406.3 L819.3,404.8 L819.5,403.4 L819.8,401.9 L820.0,400.4 L820.3,398.9 L820.5,397.4 L820.8,395.9 L821.0,394.4 L821.3,392.9 L821.5,391.4 L821.8,390.0 L822.0,388.5 L822.3,387.0 L822.5,385.5 L822.8,384.0 L823.0,382.5 L823.3,381.0 L823.5,379.6 L823.8,378.1 L824.1,376.6 L824.3,375.1 L824.6,373.6 L824.9,372.1 L825.1,370.7 L825.4,369.2 L825.7,367.7 L825.9,366.2 L826.2,364.7 L826.5,363.2 L826.8,361.8 L827.0,360.3 L827.3,358.8 L827.6,357.3 L827.9,355.8 L828.2,354.3 L828.4,352.9 L828.7,351.4 L829.0,349.9 L829.3,348.4 L829.6,346.9 L829.9,345.5 L830.2,344.0 L830.5,342.5 L830.7,341.0 L831.0,339.5 L831.3,338.1 L831.6,336.6 L831.9,335.1 L832.2,333.6 L832.5,332.2 L832.8,330.7 L833.1,329.2 L833.5,327.7 L833.8,326.3 L834.1,324.8 L834.4,323.3 L834.7,321.8 L835.0,320.4 L835.3,318.9 L835.7,317.4 L836.0,315.9 L836.3,314.5 L836.6,313.0 L836.9,311.5 L837.3,310.0 L837.6,308.6 L837.9,307.1 L838.3,305.6 L838.6,304.2 L838.9,302.7 L839.3,301.2 L839.6,299.7 L839.9,298.3 L840.3,296.8 L840.6,295.3 L841.0,293.9 L841.3,292.4 L841.7,290.9 L842.0,289.5 L842.4,288.0 L842.7,286.5 L843.1,285.1 L843.4,283.6 L843.8,282.1 L844.1,280.7 L844.5,279.2 L844.9,277.7 L845.2,276.3 L845.6,274.8 L846.0,273.3 L846.3,271.9 L846.7,270.4 L847.1,268.9 L847.5,267.5 L847.9,266.0 L848.2,264.6 L848.6,263.1 L849.0,261.6 L849.4,260.2 L849.8,258.7 L850.2,257.3 L850.6,255.8 L851.0,254.3 L851.4,252.9 L851.8,251.4 L852.2,250.0 L852.6,248.5 L853.0,247.1 L853.4,245.6 L853.8,244.1 L854.2,242.7 L854.6,241.2 L855.0,239.8 L855.4,238.3 L855.9,236.9 L856.8,235.6 L866.0,211.0 L883.0,183.5 L884.4,181.5 L885.9,181.1 L887.4,180.8 L888.9,180.7 L890.4,180.6 L891.8,180.7 L893.2,180.8 L894.6,181.0 L895.9,181.4 L897.2,181.8 L898.5,182.3 L899.7,182.9 L900.9,183.5 L902.1,184.3 L903.3,185.1 L904.4,185.9 L905.6,186.8 L906.7,187.7 L907.8,188.7 L908.8,189.8 L909.9,190.8 L910.9,191.9 L911.9,193.0 L912.9,194.2 L913.8,195.4 L914.8,196.5 L915.7,197.8 L916.6,199.0 L917.6,200.2 L918.4,201.5 L919.3,202.8 L920.2,204.1 L921.0,205.4 L921.8,206.7 L922.7,208.1 L923.5,209.4 L924.2,210.8 L925.0,212.2 L925.8,213.6 L926.5,215.0 L927.3,216.4 L928.0,217.8 L928.7,219.3 L929.4,220.7 L930.1,222.2 L930.7,223.6 L931.4,225.1 L932.0,226.6 L932.7,228.0 L933.3,229.5 L933.9,231.0 L934.5,232.5 L935.1,234.0 L935.7,235.5 L936.3,237.0 L936.8,238.4 L937.4,239.9 L937.9,241.4 L938.4,242.9 L939.0,244.4 L939.5,245.9 L940.0,247.3 L940.5,248.8 L941.0,250.2 L941.5,251.7 L941.9,253.1 L942.4,254.6 L942.9,256.0 L943.3,257.4 L943.8,258.8 L944.2,260.2 L944.7,261.6 L945.1,263.0 L945.5,264.3 L945.9,265.7 L946.4,267.0 L946.8,268.3 L947.2,269.6 L947.4,271.4 L958.5,300.4 L967.7,328.8 L968.4,330.2 L969.0,331.6 L969.5,333.0 L970.1,334.4 L970.7,335.8 L971.3,337.2 L971.8,338.6 L972.4,340.1 L972.9,341.5 L973.5,342.9 L974.0,344.4 L974.5,345.8 L975.0,347.2 L975.6,348.7 L976.1,350.1 L976.6,351.6 L977.1,353.0 L977.6,354.5 L978.1,355.9 L978.6,357.4 L979.1,358.9 L979.6,360.3 L980.1,361.8 L980.6,363.2 L981.1,364.7 L981.6,366.2 L982.1,367.6 L982.6,369.1 L983.1,370.5 L983.6,372.0 L984.2,373.5 L984.7,374.9 L985.2,376.4 L985.7,377.8 L986.2,379.3 L986.7,380.7 L987.3,382.2 L987.8,383.6 L988.3,385.1 L988.9,386.5 L989.4,387.9 L990.0,389.4 L990.5,390.8 L991.1,392.2 L991.7,393.7 L992.2,395.1 L992.8,396.5 L993.4,397.9 L994.0,399.3 L994.7,400.7 L995.3,402.1 L995.9,403.5 L996.6,404.9 L997.2,406.3 L997.9,407.7 L998.5,409.0 L999.2,410.4 L999.9,411.7 L1000.7,413.1 L1001.4,414.4 L1002.1,415.8 L1002.9,417.1 L1003.6,418.4 L1004.4,419.7 L1005.2,421.0 L1006.0,422.3 L1006.8,423.6 L1007.7,424.9 L1008.5,426.1 L1009.4,427.4 L1010.3,428.7 L1011.2,429.9 L1012.1,431.1 L1013.1,432.3 L1014.0,433.6 L1015.0,434.8 L1016.0,435.9 L1017.0,437.1 L1018.0,438.3 L1019.1,439.4 L1020.2,440.6 L1021.3,441.7 L1022.3,442.8 L1050.0,469.0 L1079.0,488.0 L1080.1,489.1 L1081.2,490.2 L1082.3,491.2 L1083.4,492.3 L1084.5,493.4 L1085.6,494.6 L1086.6,495.7 L1087.7,496.8 L1088.7,497.9 L1089.7,499.1 L1090.8,500.2 L1091.8,501.3 L1092.8,502.5 L1093.8,503.7 L1094.8,504.8 L1095.8,506.0 L1096.7,507.2 L1097.7,508.4 L1098.6,509.5 L1099.6,510.7 L1100.5,511.9 L1101.4,513.2 L1102.4,514.4 L1103.3,515.6 L1104.2,516.8 L1105.1,518.1 L1105.9,519.3 L1106.8,520.6 L1107.7,521.8 L1108.5,523.1 L1109.4,524.3 L1110.2,525.6 L1111.0,526.9 L1111.8,528.2 L1112.6,529.5 L1113.4,530.8 L1114.2,532.1 L1115.0,533.4 L1115.8,534.7 L1116.5,536.0 L1117.3,537.4 L1118.0,538.7 L1118.8,540.1 L1119.5,541.4 L1120.2,542.8 L1120.9,544.1 L1121.6,545.5 L1122.3,546.9 L1123.0,548.3 L1123.7,549.7 L1124.3,551.0 L1125.0,552.5 L1125.6,553.9 L1126.3,555.3 L1126.9,556.7 L1127.5,558.1 L1128.1,559.6 L1128.7,561.0 L1141.0,588.4 L1152.0,614.4 L1152.6,615.8 L1153.3,617.2 L1153.9,618.6 L1154.6,620.0 L1155.2,621.3 L1155.8,622.7 L1156.5,624.1 L1157.1,625.5 L1157.8,626.9 L1158.4,628.3 L1159.1,629.7 L1159.7,631.1 L1160.3,632.4 L1161.0,633.8 L1161.6,635.2 L1162.3,636.6 L1162.9,638.0 L1163.6,639.4 L1164.2,640.7 L1164.9,642.1 L1165.5,643.5 L1166.2,644.9 L1166.8,646.3 L1167.5,647.7 L1168.2,649.0 L1168.8,650.4 L1169.5,651.8 L1170.1,653.2 L1170.8,654.6 L1171.4,655.9 L1172.1,657.3 L1172.8,658.7 L1173.4,660.1 L1174.1,661.4 L1174.8,662.8 L1175.4,664.2 L1176.1,665.6 L1176.7,667.0 L1177.4,668.3 L1178.1,669.7 L1178.7,671.1 L1179.4,672.5 L1180.1,673.8 L1180.7,675.2 L1181.4,676.6 L1182.1,678.0 L1182.8,679.3 L1183.4,680.7 L1184.1,682.1 L1184.8,683.4 L1185.4,684.8 L1186.1,686.2 L1186.8,687.6 L1187.5,688.9 L1188.1,690.3 L1188.8,691.7 L1189.5,693.0 L1190.2,694.4 L1190.9,695.8 L1191.5,697.1 L1192.2,698.5 L1192.9,699.9 L1193.6,701.3 L1194.3,702.6 L1195.0,704.0 L1195.6,705.4 L1196.3,706.7 L1197.0,708.1 L1197.7,709.5 L1198.4,710.8 L1199.1,712.2 L1199.8,713.5 L1200.5,714.9 L1201.1,716.3 L1201.8,717.6 L1202.5,719.0 L1203.2,720.4 L1203.9,721.7 L1204.6,723.1 L1205.3,724.4 L1206.0,725.8 L1206.7,727.2 L1207.4,728.5 L1208.1,729.9 L1208.8,731.2 L1209.5,732.6 L1210.2,734.0 L1210.9,735.3 L1211.6,736.7 L1212.3,738.0 L1213.0,739.4 L1233.4,766.7 L1259.8,772.8 L1260.8,771.6 L1261.8,770.5 L1262.8,769.3 L1263.8,768.1 L1264.8,766.9 L1265.7,765.7 L1266.6,764.4 L1267.6,763.2 L1268.5,762.0 L1269.3,760.7 L1270.2,759.4 L1271.1,758.2 L1271.9,756.9 L1272.8,755.6 L1273.6,754.3 L1274.4,753.0 L1275.2,751.8 L1276.0,750.4 L1276.8,749.1 L1277.5,747.8 L1278.3,746.5 L1279.0,745.2 L1279.8,743.8 L1280.5,742.5 L1281.2,741.1 L1281.9,739.8 L1282.6,738.4 L1283.3,737.1 L1284.0,735.7 L1284.7,734.3 L1285.3,732.9 L1286.0,731.6 L1286.6,730.2 L1287.3,728.8 L1287.9,727.4 L1288.5,726.0 L1289.2,724.6 L1289.8,723.2 L1290.4,721.8 L1291.0,720.4 L1291.6,719.0 L1292.2,717.6 L1292.8,716.1 L1293.3,714.7 L1293.9,713.3 L1294.5,711.9 L1295.1,710.4 L1295.6,709.0 L1296.2,707.6 L1296.8,706.2 L1297.3,704.7 L1297.9,703.3 L1298.5,701.9 L1299.0,700.4 L1299.6,699.0 L1300.1,697.6 L1300.7,696.1 L1301.2,694.7 L1301.8,693.3 L1302.3,691.8 L1302.9,690.4 L1303.4,688.9 L1304.0,687.5 L1304.5,686.1 L1305.1,684.7 L1305.6,683.2 L1306.2,681.8 L1306.7,680.4 L1307.3,678.9 L1307.9,677.5 L1308.4,676.1 L1309.0,674.7 L1309.6,673.3 L1310.2,671.8 L1310.7,670.4 L1311.3,669.0 L1311.9,667.6 L1312.5,666.2 L1313.1,664.8 L1313.7,663.4 L1314.3,662.0 L1324.7,631.0 L1334.0,605.0 L1334.8,603.9 L1335.5,602.7 L1336.2,601.5 L1336.9,600.3 L1337.6,599.1 L1338.2,597.9 L1338.9,596.6 L1339.5,595.3 L1340.1,594.0 L1340.7,592.7 L1341.3,591.3 L1341.9,589.9 L1342.5,588.5 L1343.0,587.1 L1343.6,585.7 L1344.1,584.3 L1344.6,582.8 L1345.2,581.4 L1345.7,579.9 L1346.2,578.4 L1346.7,576.9 L1347.2,575.4 L1347.7,573.8 L1348.1,572.3 L1348.6,570.8 L1349.1,569.2 L1349.6,567.7 L1350.1,566.1 L1350.6,564.6 L1351.1,563.0 L1351.5,561.5 L1352.0,559.9 L1352.5,558.3 L1353.0,556.8 L1353.5,555.2 L1354.0,553.7 L1354.5,552.1 L1355.1,550.6 L1355.6,549.0 L1356.1,547.5 L1356.7,546.0 L1357.2,544.5 L1357.8,543.0 L1358.4,541.5 L1359.0,540.0 L1359.6,538.5 L1360.2,537.1 L1360.9,535.6 L1361.5,534.2 L1362.2,532.8 L1362.9,531.4 L1363.6,530.0 L1364.3,528.6 L1365.0,527.3 L1365.8,526.0 L1366.6,524.7 L1367.4,523.4 L1368.2,522.1 L1369.1,520.9 L1369.9,519.7 L1370.8,518.5 L1371.8,517.4 L1372.7,516.2 L1373.7,515.2 L1374.7,514.1 L1375.7,513.0 L1376.8,512.0 L1377.9,511.1 L1379.0,510.1 L1380.2,509.2 L1381.4,508.4 L1382.6,507.5 L1383.8,506.7 L1385.1,506.0 L1386.4,505.2 L1387.8,504.6 L1389.2,503.9 L1390.6,503.3 L1392.1,502.8 L1393.6,502.3 L1395.2,501.8 L1396.8,501.4 L1398.4,501.0 L1400.0,501.0 L1415.7,525.8 L1428.0,553.0 L1428.8,554.3 L1429.4,555.7 L1430.0,557.1 L1430.6,558.5 L1431.2,559.9 L1431.8,561.3 L1432.4,562.7 L1433.0,564.0 L1433.6,565.4 L1434.2,566.8 L1434.7,568.2 L1435.3,569.6 L1435.9,571.0 L1436.5,572.4 L1437.0,573.8 L1437.6,575.2 L1438.2,576.6 L1438.7,578.0 L1439.3,579.4 L1439.8,580.8 L1440.3,582.2 L1440.9,583.6 L1441.4,585.0 L1442.0,586.5 L1442.5,587.9 L1443.0,589.3 L1443.5,590.7 L1444.1,592.1 L1444.6,593.5 L1445.1,594.9 L1445.6,596.4 L1446.1,597.8 L1446.6,599.2 L1447.1,600.6 L1447.6,602.0 L1448.1,603.5 L1448.6,604.9 L1449.1,606.3 L1449.6,607.7 L1450.0,609.2 L1450.5,610.6 L1451.0,612.0 L1451.5,613.5 L1451.9,614.9 L1452.4,616.3 L1452.9,617.8 L1453.3,619.2 L1453.8,620.6 L1454.2,622.1 L1454.7,623.5 L1455.1,624.9 L1455.6,626.4 L1456.0,627.8 L1456.5,629.3 L1456.9,630.7 L1457.4,632.1 L1457.8,633.6 L1458.2,635.0 L1458.7,636.5 L1459.1,637.9 L1459.5,639.4 L1459.9,640.8 L1460.4,642.3 L1460.8,643.7 L1461.2,645.2 L1461.6,646.6 L1462.0,648.1 L1462.5,649.5 L1462.9,651.0 L1463.3,652.4 L1463.7,653.9 L1464.1,655.3 L1464.5,656.8 L1464.9,658.2 L1465.3,659.7 L1465.7,661.1 L1466.1,662.6 L1466.5,664.0 L1466.9,665.5 L1467.3,667.0 L1467.7,668.4 L1468.0,669.9 L1468.4,671.3 L1468.8,672.8 L1469.2,674.3 L1469.6,675.7 L1470.0,677.2 L1470.4,678.6 L1470.7,680.1 L1471.1,681.6 L1471.5,683.0 L1471.9,684.5 L1472.2,685.9 L1472.6,687.4 L1473.0,688.9 L1473.4,690.3 L1473.7,691.8 L1474.1,693.3 L1474.5,694.7 L1474.8,696.2 L1475.2,697.7 L1475.6,699.1 L1475.9,700.6 L1476.3,702.1 L1476.7,703.5 L1477.0,705.0 L1477.4,706.5 L1477.8,707.9 L1478.1,709.4 L1478.5,710.9 L1478.8,712.3 L1479.2,713.8 L1479.6,715.3 L1479.9,716.7 L1480.3,718.2 L1480.6,719.7 L1481.0,721.1 L1481.4,722.6 L1481.7,724.1 L1482.1,725.5 L1482.4,727.0 L1482.8,728.5 L1483.1,729.9 L1483.5,731.4 L1483.9,732.9 L1484.2,734.3 L1484.6,735.8 L1484.9,737.3 L1485.3,738.7 L1485.7,740.2 L1486.0,741.7 L1486.4,743.1 L1486.7,744.6 L1487.1,746.1 L1487.5,747.5 L1487.8,749.0 L1488.2,750.5 L1488.5,751.9 L1488.9,753.4 L1489.3,754.9 L1489.6,756.3 L1490.0,757.8 L1490.4,759.3 L1490.7,760.7 L1491.1,762.2 L1491.5,763.6 L1491.8,765.1 L1492.2,766.6 L1492.6,768.0 L1492.9,769.5 L1493.3,771.0 L1493.7,772.4 L1494.0,773.9 L1494.4,775.3 L1494.8,776.8 L1495.2,778.3 L1495.5,779.7 L1495.9,781.2 L1496.3,782.6 L1496.7,784.1 L1497.1,785.6 L1497.5,787.0 L1497.8,788.5 L1498.2,789.9 L1498.6,791.4 L1499.0,792.8 L1499.4,794.3 L1499.8,795.8 L1500.2,797.2 L1500.6,798.7 L1501.0,800.1 L1501.4,801.6 L1501.8,803.0 L1502.2,804.5 L1502.3,806.0 L1508.0,834.5 L1515.5,862.0 L1516.2,863.4 L1516.8,864.7 L1517.5,866.1 L1518.1,867.5 L1518.7,868.8 L1519.4,870.2 L1520.0,871.6 L1520.6,873.0 L1521.2,874.4 L1521.8,875.8 L1522.4,877.2 L1523.0,878.6 L1523.5,880.0 L1524.1,881.4 L1524.7,882.8 L1525.2,884.2 L1525.8,885.6 L1526.3,887.0 L1526.9,888.4 L1527.4,889.8 L1527.9,891.2 L1528.4,892.7 L1529.0,894.1 L1529.5,895.5 L1530.0,896.9 L1530.5,898.4 L1531.0,899.8 L1531.5,901.2 L1532.0,902.7 L1532.5,904.1 L1533.0,905.5 L1533.5,907.0 L1534.0,908.4 L1534.4,909.8 L1534.9,911.3 L1535.4,912.7 L1535.9,914.2 L1536.3,915.6 L1536.8,917.0 L1537.3,918.5 L1537.7,919.9 L1538.2,921.4 L1538.7,922.8 L1539.1,924.3 L1539.6,925.7 L1540.1,927.1 L1540.5,928.6 L1541.0,930.0 L1541.5,931.5 L1541.9,932.9 L1542.4,934.4 L1542.9,935.8 L1543.3,937.3 L1543.8,938.7 L1544.2,940.1 L1544.7,941.6 L1545.2,943.0 L1545.7,944.5 L1546.1,945.9 L1546.6,947.3 L1547.1,948.8 L1547.6,950.2 L1548.0,951.7 L1548.5,953.1 L1549.0,954.5 L1549.5,956.0 L1550.0,957.4 L1550.5,958.8 L1551.0,960.2 L1551.5,961.7 L1552.0,963.1 L1552.5,964.5 L1553.0,965.9 L1553.6,967.4 L1554.1,968.8 L1554.6,970.2 L1555.2,971.6 L1555.7,973.0 L1556.2,974.4 L1556.8,975.8 L1557.3,977.2 L1557.9,978.6 L1558.5,980.0 L1559.1,981.4 L1559.6,982.8 L1560.2,984.2 L1560.8,985.6 L1561.4,987.0 L1562.0,988.4 L1562.7,989.7 L1563.3,991.1 L1563.9,992.5 L1564.6,993.8 L1565.2,995.2 L1565.9,996.6 L1566.5,997.9 L1567.2,999.3 L1567.9,1000.6 L1568.6,1002.0 L1569.3,1003.3 L1570.0,1004.6 L1570.7,1006.0 L1571.4,1007.3 L1572.2,1008.6 L1572.9,1010.0 L1573.7,1011.3 L1574.4,1012.6 L1575.2,1013.9 L1576.0,1015.2 L1576.8,1016.5 L1577.6,1017.8 L1578.5,1019.1 L1579.3,1020.3 L1580.1,1021.6 L1581.0,1022.9 L1600.8,1052.4 L1619.6,1081.0 L1620.4,1082.3 L1621.3,1083.6 L1622.1,1084.8 L1622.9,1086.1 L1623.7,1087.4 L1624.5,1088.7 L1625.3,1090.0 L1626.2,1091.3 L1627.0,1092.5 L1627.8,1093.8 L1628.6,1095.1 L1629.4,1096.4 L1630.2,1097.7 L1631.0,1099.0 L1631.8,1100.3 L1632.6,1101.6 L1633.4,1102.9 L1634.2,1104.2 L1635.0,1105.5 L1635.8,1106.8 L1636.6,1108.1 L1637.3,1109.4 L1638.1,1110.7 L1638.9,1112.0 L1639.7,1113.3 L1640.5,1114.6 L1641.2,1115.9 L1642.0,1117.2 L1642.8,1118.5 L1643.6,1119.8 L1644.3,1121.1 L1645.1,1122.4 L1645.9,1123.8 L1646.6,1125.1 L1647.4,1126.4 L1648.2,1127.7 L1648.9,1129.0 L1649.7,1130.3 L1650.4,1131.7 L1651.2,1133.0 L1651.9,1134.3 L1652.7,1135.6 L1653.4,1137.0 L1654.2,1138.3 L1654.9,1139.6 L1655.7,1140.9 L1656.4,1142.3 L1657.1,1143.6 L1657.9,1144.9 L1658.6,1146.2 L1659.3,1147.6 L1660.1,1148.9 L1660.8,1150.2 L1661.5,1151.6 L1662.2,1152.9 L1663.0,1154.3 L1663.7,1155.6 L1664.4,1156.9 L1665.1,1158.3 L1665.8,1159.6 L1666.5,1161.0 L1667.3,1162.3 L1668.0,1163.7 L1668.7,1165.0 L1669.4,1166.3 L1670.1,1167.7 L1670.8,1169.0 L1671.5,1170.4 L1672.2,1171.7 L1672.9,1173.1 L1673.6,1174.5 L1674.3,1175.8 L1675.0,1177.2 L1675.6,1178.5 L1676.3,1179.9 L1677.0,1181.2 L1677.7,1182.6 L1691.0,1208.5 L1707.3,1234.5 L1708.3,1235.8 L1709.4,1237.0 L1710.5,1238.2 L1711.6,1239.4 L1712.7,1240.6 L1713.8,1241.7 L1715.0,1242.8 L1716.1,1243.9 L1717.3,1245.0 L1718.5,1246.0 L1719.7,1247.0 L1720.9,1248.0 L1722.2,1248.9 L1723.4,1249.9 L1724.7,1250.8 L1726.0,1251.6 L1727.3,1252.5 L1728.6,1253.3 L1730.0,1254.1 L1731.3,1254.9 L1732.7,1255.7 L1734.1,1256.4 L1735.5,1257.1 L1737.0,1257.7 L1738.4,1258.4 L1739.9,1259.0 L1741.3,1259.6 L1742.8,1260.2 L1744.4,1260.7 L1745.9,1261.2 L1747.4,1261.7 L1749.0,1262.2 L1783.5,1263.5 L1811.5,1256.5 L1829.0,1250.8 L1846.6,1245.1 L1875.0,1237.2 L1903.3,1231.0 L1921.0,1228.2 L1938.4,1225.5 L1966.4,1233.2 L1994.2,1251.6 L2010.0,1275.3 L2026.0,1299.4 L2042.8,1324.6 L2058.8,1352.9 L2073.4,1379.4 L2078.0,1389.0" stroke="#0c0cc0" stroke-width="5.7"/>
</g>
</g>
<g fill="#0000f5" stroke="#1a1aa0" stroke-width="1.2">
<rect x="288.6" y="1240.8" width="53.5" height="53.5"/>
<rect x="380.8" y="1105.0" width="53.5" height="53.5"/>
<rect x="474.1" y="924.5" width="53.5" height="53.5"/>
<rect x="564.9" y="823.2" width="53.5" height="53.5"/>
<rect x="656.0" y="1000.7" width="53.5" height="53.5"/>
<rect x="748.5" y="703.8" width="53.5" height="53.5"/>
<rect x="839.2" y="184.2" width="53.5" height="53.5"/>
<rect x="931.8" y="273.6" width="53.5" height="53.5"/>
<rect x="1023.2" y="442.2" width="53.5" height="53.5"/>
<rect x="1114.2" y="561.6" width="53.5" height="53.5"/>
<rect x="1206.7" y="740.0" width="53.5" height="53.5"/>
<rect x="1298.0" y="604.2" width="53.5" height="53.5"/>
<rect x="1389.0" y="499.0" width="53.5" height="53.5"/>
<rect x="1481.2" y="807.8" width="53.5" height="53.5"/>
<rect x="1574.0" y="1025.7" width="53.5" height="53.5"/>
<rect x="1664.2" y="1181.8" width="53.5" height="53.5"/>
<rect x="1756.8" y="1236.8" width="53.5" height="53.5"/>
<rect x="1848.2" y="1210.5" width="53.5" height="53.5"/>
<rect x="1939.7" y="1206.5" width="53.5" height="53.5"/>
<rect x="2032.1" y="1326.2" width="53.5" height="53.5"/>
<rect x="221.5" y="1355.7" width="33.3" height="35.7"/>
</g>
<g fill="none" stroke-linecap="butt">
<path d="M1571,175.4 H1817" stroke="#000" stroke-width="8"/>
<path d="M1571,329.6 H1817" stroke="#e3141b" stroke-width="8"/>
<path d="M1571,483.8 H1817" stroke="#0c0cc0" stroke-width="8"/>
</g>
<circle cx="1692.6" cy="327.6" r="25" fill="#fff" stroke="#cf1c24" stroke-width="5"/>
<rect x="1666.6" y="454.8" width="51.2" height="53" fill="#0000f5" stroke="#1a1aa0" stroke-width="1.2"/>
<g font-family="'Liberation Serif', 'Times New Roman', serif" font-weight="bold" fill="#000">
<text x="117.97 156.67" y="80.60" font-size="74.00">16</text>
<text x="117.97 156.09" y="418.30" font-size="74.00">12</text>
<text x="156.64" y="752.70" font-size="74.00">8</text>
<text x="156.09" y="1088.40" font-size="74.00">4</text>
<text x="154.48" y="1423.30" font-size="74.00">0</text>
<text x="203.64" y="1488.80" font-size="75.00">0</text>
<text x="988.49" y="1488.30" font-size="75.00">1</text>
<text x="1775.85" y="1488.30" font-size="75.00">2</text>
<text x="1106.60 1158.67 1182.36 1250.15 1289.12 1310.56 1378.27" y="1589.50" font-size="83.50">Time/ms</text>
<text x="1853.64 1903.57 1943.30 1998.07 2036.54 2085.89" y="197.00" font-size="74.00">L1D1E2</text>
<text x="1853.64 1902.97 1940.60 1996.07 2035.84 2082.74" y="348.60" font-size="74.00">L1D1E5</text>
<text x="1853.64 1902.97 1940.60 1996.07 2035.84 2083.24" y="502.50" font-size="74.00">L1D1E8</text>
<g transform="rotate(-90)"><text x="-868.63 -816.28 -772.39 -732.38 -681.78 -640.48 -589.59" y="112.50" font-size="83.50">Load/kN</text></g>
</g>
</svg>
</body></html>
